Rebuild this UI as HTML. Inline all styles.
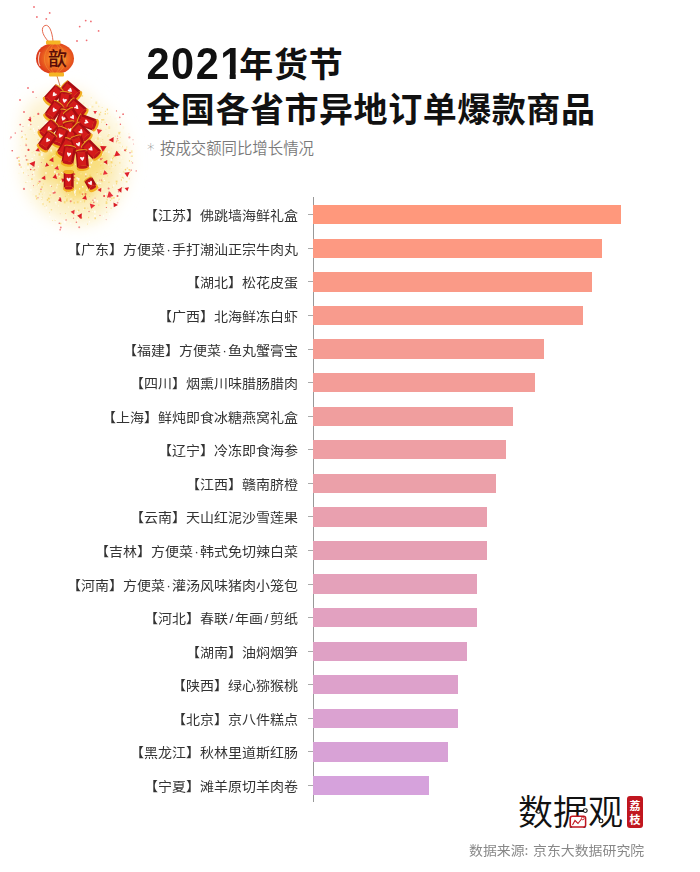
<!DOCTYPE html>
<html><head><meta charset="utf-8"><style>
*{margin:0;padding:0;box-sizing:border-box}
html,body{width:700px;height:872px;background:#fff;overflow:hidden}
body{position:relative;font-family:"Liberation Sans","Noto Sans CJK SC",sans-serif}
.one{display:inline-block;clip-path:polygon(0 0,100% 0,100% 34.4px,15.5px 34.4px,15.5px 100%,9.4px 100%,9.4px 34.4px,0 34.4px)}
.dg{letter-spacing:1.5px;font-size:41.5px;font-family:"Liberation Sans",sans-serif;display:inline-block;transform:scaleY(1.05);transform-origin:50% 80%;position:relative;top:1.5px}
.cj1{display:inline-block;margin-left:-5.5px;letter-spacing:0.7px;font-size:34px;position:relative;top:-0.5px;font-family:"Noto Sans CJK SC",sans-serif}
.ast{display:inline-block;width:14px;position:relative;top:0.5px;left:1px;font-family:"DejaVu Sans",sans-serif;font-size:15px}
.t1{position:absolute;left:146.5px;top:37px;font-size:34.5px;font-weight:700;color:#111;line-height:52px;white-space:nowrap;font-family:"Liberation Sans","Noto Sans CJK SC",sans-serif}
.t2{position:absolute;left:146.3px;top:82.3px;font-size:34px;letter-spacing:0.55px;font-weight:700;color:#111;line-height:52px;white-space:nowrap;font-family:"Noto Sans CJK SC",sans-serif}
.sub{position:absolute;left:146px;top:138px;font-size:15.4px;font-weight:350;color:#7a7a7a;line-height:22px;white-space:nowrap;font-family:"Liberation Sans","Noto Sans CJK SC",sans-serif}
.axis{position:absolute;left:313px;top:197px;width:1px;height:605px;background:#999}
.tick{position:absolute;left:308px;width:5px;height:1px;background:#aaa}
.bar{position:absolute;left:313px;height:19.3px}
.md{display:inline-block;width:7px;text-align:center}
.lab{position:absolute;right:402px;height:20px;line-height:20px;font-size:14px;color:#333;transform:scaleY(0.93);transform-origin:50% 55%;white-space:nowrap;font-family:"Liberation Sans","Noto Sans CJK SC",sans-serif}
.src{position:absolute;left:469px;top:838.5px;font-size:13.9px;word-spacing:1.5px;transform:scaleY(0.94);transform-origin:0 40%;color:#888;line-height:20px;white-space:nowrap;font-family:"Noto Sans CJK SC",sans-serif}
.logo{position:absolute;left:518px;top:788px;font-size:35px;font-weight:350;color:#111;line-height:44px;white-space:nowrap;font-family:"Noto Sans CJK SC",sans-serif}
.badge{position:absolute;left:627px;top:796px;width:16px;height:32px;background:#c0161f;border-radius:3px;color:#fff;font-size:11px;font-weight:700;line-height:14px;text-align:center;padding-top:2px;font-family:"Noto Sans CJK SC",sans-serif}
.fire{position:absolute;left:0;top:0;width:180px;height:240px}
</style></head><body>
<svg class="fire" width="180" height="240" viewBox="0 0 180 240">
<defs><filter id="bl" x="-50%" y="-50%" width="200%" height="200%"><feGaussianBlur stdDeviation="8"/></filter><filter id="bl2" x="-50%" y="-50%" width="200%" height="200%"><feGaussianBlur stdDeviation="4"/></filter><radialGradient id="lg" cx="0.55" cy="0.5" r="0.55"><stop offset="0" stop-color="#f7a032"/><stop offset="0.55" stop-color="#ef6c22"/><stop offset="1" stop-color="#da3419"/></radialGradient></defs>
<g filter="url(#bl)">
<ellipse cx="75" cy="162" rx="54" ry="62" fill="#fdf4d6"/>
<ellipse cx="68" cy="122" rx="32" ry="34" fill="#fdf4d8"/>
<ellipse cx="42" cy="130" rx="20" ry="32" fill="#fdf3d0"/>
<ellipse cx="76" cy="170" rx="38" ry="40" fill="#fbe9aa"/>
<ellipse cx="85" cy="202" rx="24" ry="20" fill="#fcefc0"/>
</g>
<g filter="url(#bl2)">
<ellipse cx="66" cy="163" rx="22" ry="18" fill="#f7d558"/>
<ellipse cx="92" cy="160" rx="15" ry="15" fill="#f9df80"/>
<ellipse cx="78" cy="186" rx="17" ry="13" fill="#f8da70"/>
<ellipse cx="50" cy="172" rx="10" ry="9" fill="#f9e08a"/>
</g>
<g><rect x="33.5" y="174.6" width="1.1" height="1.7" fill="#ffffff" opacity="0.75"/><rect x="94.2" y="215.0" width="1.4" height="1.9" fill="#ffffff" opacity="0.75"/><rect x="101.5" y="180.3" width="1.2" height="1.9" fill="#f7d66a" opacity="0.75"/><rect x="45.3" y="121.9" width="1.8" height="2.2" fill="#ffffff" opacity="0.75"/><rect x="57.8" y="142.6" width="1.6" height="1.1" fill="#f7d66a" opacity="0.75"/><rect x="128.0" y="173.8" width="0.6" height="0.7" fill="#f5cf5a" opacity="0.75"/><rect x="25.4" y="182.1" width="0.9" height="0.8" fill="#f5cf5a" opacity="0.75"/><rect x="91.9" y="160.6" width="0.9" height="1.5" fill="#fff7dc" opacity="0.75"/><rect x="128.1" y="158.4" width="0.9" height="1.2" fill="#fff7dc" opacity="0.75"/><rect x="65.0" y="159.1" width="1.5" height="1.5" fill="#f5cf5a" opacity="0.75"/><rect x="95.6" y="126.3" width="1.6" height="1.0" fill="#f7d66a" opacity="0.75"/><rect x="88.9" y="221.0" width="1.1" height="1.4" fill="#ffffff" opacity="0.75"/><rect x="36.8" y="184.0" width="1.5" height="1.3" fill="#fbe49a" opacity="0.75"/><rect x="103.6" y="179.8" width="1.5" height="1.1" fill="#ffffff" opacity="0.75"/><rect x="75.4" y="181.0" width="1.2" height="1.3" fill="#f7d66a" opacity="0.75"/><rect x="64.6" y="133.9" width="0.8" height="1.1" fill="#f5cf5a" opacity="0.75"/><rect x="106.6" y="198.8" width="1.1" height="1.7" fill="#f7d66a" opacity="0.75"/><rect x="128.9" y="160.2" width="1.0" height="1.4" fill="#f5cf5a" opacity="0.75"/><rect x="83.9" y="200.2" width="1.4" height="1.0" fill="#f5cf5a" opacity="0.75"/><rect x="101.7" y="158.0" width="0.6" height="0.7" fill="#ffffff" opacity="0.75"/><rect x="92.4" y="124.1" width="0.7" height="0.8" fill="#f7d66a" opacity="0.75"/><rect x="77.0" y="211.1" width="1.3" height="1.0" fill="#ffffff" opacity="0.75"/><rect x="29.8" y="128.6" width="1.6" height="1.3" fill="#fbe49a" opacity="0.75"/><rect x="106.3" y="211.8" width="0.9" height="0.7" fill="#f5cf5a" opacity="0.75"/><rect x="71.3" y="96.1" width="1.4" height="1.4" fill="#fbe49a" opacity="0.75"/><rect x="58.8" y="162.0" width="0.7" height="0.5" fill="#f7d66a" opacity="0.75"/><rect x="102.5" y="152.5" width="1.1" height="1.1" fill="#fff7dc" opacity="0.75"/><rect x="108.6" y="134.0" width="0.8" height="1.1" fill="#f5cf5a" opacity="0.75"/><rect x="100.2" y="173.2" width="1.4" height="1.7" fill="#f5cf5a" opacity="0.75"/><rect x="98.9" y="173.7" width="1.5" height="1.0" fill="#fbe49a" opacity="0.75"/><rect x="50.4" y="177.4" width="0.8" height="0.8" fill="#f7d66a" opacity="0.75"/><rect x="56.1" y="149.5" width="0.8" height="0.8" fill="#ffffff" opacity="0.75"/><rect x="50.8" y="209.3" width="1.3" height="1.0" fill="#f5cf5a" opacity="0.75"/><rect x="82.6" y="161.9" width="1.4" height="2.3" fill="#ffffff" opacity="0.75"/><rect x="120.8" y="167.0" width="0.7" height="0.6" fill="#ffffff" opacity="0.75"/><rect x="85.2" y="173.4" width="1.3" height="1.7" fill="#ffffff" opacity="0.75"/><rect x="115.3" y="126.8" width="0.8" height="1.2" fill="#fff7dc" opacity="0.75"/><rect x="65.8" y="176.1" width="1.7" height="2.5" fill="#ffffff" opacity="0.75"/><rect x="30.3" y="189.2" width="1.3" height="1.6" fill="#ffffff" opacity="0.75"/><rect x="42.3" y="193.9" width="0.7" height="0.5" fill="#f5cf5a" opacity="0.75"/><rect x="97.0" y="182.2" width="1.5" height="1.5" fill="#ffffff" opacity="0.75"/><rect x="70.9" y="109.9" width="1.2" height="1.3" fill="#ffffff" opacity="0.75"/><rect x="33.7" y="154.5" width="1.3" height="1.4" fill="#ffffff" opacity="0.75"/><rect x="81.0" y="214.7" width="1.5" height="1.9" fill="#ffffff" opacity="0.75"/><rect x="20.3" y="165.4" width="1.0" height="1.2" fill="#ffffff" opacity="0.75"/><rect x="82.0" y="186.0" width="1.4" height="1.5" fill="#ffffff" opacity="0.75"/><rect x="100.8" y="136.3" width="0.9" height="1.1" fill="#fff7dc" opacity="0.75"/><rect x="91.7" y="105.9" width="1.7" height="1.6" fill="#fbe49a" opacity="0.75"/><rect x="46.7" y="141.5" width="0.8" height="0.7" fill="#fbe49a" opacity="0.75"/><rect x="84.3" y="151.9" width="1.7" height="1.5" fill="#f7d66a" opacity="0.75"/><rect x="93.9" y="198.7" width="1.7" height="2.4" fill="#ffffff" opacity="0.75"/><rect x="44.1" y="192.0" width="1.0" height="1.4" fill="#fff7dc" opacity="0.75"/><rect x="113.8" y="155.0" width="1.6" height="1.4" fill="#f7d66a" opacity="0.75"/><rect x="37.7" y="126.0" width="1.3" height="1.2" fill="#ffffff" opacity="0.75"/><rect x="77.1" y="151.2" width="1.1" height="0.9" fill="#fbe49a" opacity="0.75"/><rect x="78.6" y="126.2" width="1.6" height="2.5" fill="#fbe49a" opacity="0.75"/><rect x="89.3" y="174.4" width="1.4" height="2.0" fill="#f5cf5a" opacity="0.75"/><rect x="121.4" y="145.9" width="1.6" height="1.4" fill="#fbe49a" opacity="0.75"/><rect x="63.8" y="104.1" width="1.5" height="1.1" fill="#f5cf5a" opacity="0.75"/><rect x="70.2" y="198.4" width="1.7" height="1.9" fill="#fff7dc" opacity="0.75"/><rect x="98.1" y="159.5" width="1.7" height="1.2" fill="#fff7dc" opacity="0.75"/><rect x="119.9" y="136.9" width="1.1" height="0.9" fill="#fbe49a" opacity="0.75"/><rect x="78.6" y="156.5" width="1.3" height="1.9" fill="#f5cf5a" opacity="0.75"/><rect x="91.3" y="98.6" width="1.0" height="1.6" fill="#ffffff" opacity="0.75"/><rect x="118.9" y="195.8" width="1.7" height="1.2" fill="#fff7dc" opacity="0.75"/><rect x="76.8" y="201.2" width="1.8" height="2.0" fill="#f7d66a" opacity="0.75"/><rect x="83.3" y="123.9" width="1.6" height="1.5" fill="#fff7dc" opacity="0.75"/><rect x="108.4" y="181.8" width="1.1" height="1.0" fill="#f5cf5a" opacity="0.75"/><rect x="98.7" y="145.1" width="1.1" height="0.7" fill="#f7d66a" opacity="0.75"/><rect x="28.0" y="148.7" width="1.2" height="1.9" fill="#fbe49a" opacity="0.75"/><rect x="108.9" y="132.2" width="1.4" height="2.2" fill="#fff7dc" opacity="0.75"/><rect x="18.6" y="163.0" width="1.5" height="1.6" fill="#f7d66a" opacity="0.75"/><rect x="25.7" y="138.3" width="1.4" height="1.5" fill="#f5cf5a" opacity="0.75"/><rect x="99.1" y="118.9" width="1.4" height="2.2" fill="#ffffff" opacity="0.75"/><rect x="106.0" y="122.5" width="1.6" height="2.5" fill="#ffffff" opacity="0.75"/><rect x="31.6" y="152.4" width="1.1" height="0.8" fill="#fbe49a" opacity="0.75"/><rect x="110.6" y="161.3" width="1.8" height="2.0" fill="#f5cf5a" opacity="0.75"/><rect x="32.9" y="194.5" width="0.7" height="0.5" fill="#f5cf5a" opacity="0.75"/><rect x="102.9" y="215.2" width="1.1" height="1.7" fill="#ffffff" opacity="0.75"/><rect x="101.7" y="144.2" width="1.2" height="1.1" fill="#ffffff" opacity="0.75"/><rect x="120.6" y="122.8" width="1.2" height="0.9" fill="#ffffff" opacity="0.75"/><rect x="66.3" y="165.5" width="0.8" height="1.0" fill="#ffffff" opacity="0.75"/><rect x="100.3" y="164.1" width="0.6" height="0.5" fill="#fbe49a" opacity="0.75"/><rect x="70.3" y="127.8" width="0.7" height="1.0" fill="#ffffff" opacity="0.75"/><rect x="104.7" y="192.9" width="1.5" height="1.9" fill="#ffffff" opacity="0.75"/><rect x="81.4" y="153.1" width="1.1" height="1.2" fill="#fff7dc" opacity="0.75"/><rect x="89.1" y="185.2" width="1.2" height="1.0" fill="#fff7dc" opacity="0.75"/><rect x="84.0" y="207.5" width="1.6" height="1.4" fill="#f5cf5a" opacity="0.75"/><rect x="72.0" y="100.7" width="1.0" height="0.9" fill="#fbe49a" opacity="0.75"/><rect x="99.0" y="145.6" width="1.7" height="1.2" fill="#fbe49a" opacity="0.75"/><rect x="78.3" y="216.1" width="1.1" height="1.1" fill="#ffffff" opacity="0.75"/><rect x="114.9" y="142.4" width="0.8" height="0.8" fill="#fff7dc" opacity="0.75"/><rect x="71.9" y="151.9" width="1.3" height="1.2" fill="#fbe49a" opacity="0.75"/><rect x="90.0" y="124.2" width="1.2" height="1.6" fill="#fff7dc" opacity="0.75"/><rect x="27.0" y="159.0" width="1.6" height="1.7" fill="#fbe49a" opacity="0.75"/><rect x="125.0" y="168.8" width="1.2" height="1.4" fill="#f5cf5a" opacity="0.75"/><rect x="90.1" y="182.6" width="0.8" height="0.6" fill="#fbe49a" opacity="0.75"/><rect x="65.2" y="213.0" width="0.7" height="1.0" fill="#f5cf5a" opacity="0.75"/><rect x="25.7" y="173.6" width="1.1" height="1.1" fill="#ffffff" opacity="0.75"/><rect x="58.8" y="184.0" width="0.6" height="0.8" fill="#ffffff" opacity="0.75"/><rect x="88.8" y="136.7" width="1.0" height="1.0" fill="#ffffff" opacity="0.75"/><rect x="114.8" y="135.8" width="1.2" height="0.7" fill="#f7d66a" opacity="0.75"/><rect x="115.7" y="123.3" width="1.7" height="2.5" fill="#fff7dc" opacity="0.75"/><rect x="115.7" y="141.5" width="1.2" height="1.9" fill="#fbe49a" opacity="0.75"/><rect x="85.0" y="128.4" width="1.5" height="2.1" fill="#f7d66a" opacity="0.75"/><rect x="89.6" y="121.4" width="1.7" height="2.1" fill="#ffffff" opacity="0.75"/><rect x="80.5" y="102.6" width="0.8" height="0.7" fill="#ffffff" opacity="0.75"/><rect x="84.3" y="125.3" width="0.6" height="0.6" fill="#f7d66a" opacity="0.75"/><rect x="45.5" y="120.1" width="0.9" height="1.4" fill="#fbe49a" opacity="0.75"/><rect x="66.9" y="189.2" width="1.3" height="1.5" fill="#ffffff" opacity="0.75"/><rect x="30.4" y="202.2" width="0.9" height="0.6" fill="#fff7dc" opacity="0.75"/><rect x="40.2" y="190.6" width="1.3" height="1.8" fill="#f7d66a" opacity="0.75"/><rect x="73.5" y="201.8" width="1.5" height="1.9" fill="#f7d66a" opacity="0.75"/><rect x="104.4" y="162.3" width="1.7" height="1.9" fill="#ffffff" opacity="0.75"/><rect x="18.0" y="156.8" width="1.6" height="1.1" fill="#f5cf5a" opacity="0.75"/><rect x="31.3" y="178.2" width="1.3" height="1.8" fill="#f5cf5a" opacity="0.75"/><rect x="128.7" y="177.8" width="1.1" height="1.7" fill="#fbe49a" opacity="0.75"/><rect x="101.3" y="121.7" width="0.7" height="1.0" fill="#f5cf5a" opacity="0.75"/><rect x="38.0" y="182.9" width="1.0" height="1.1" fill="#f5cf5a" opacity="0.75"/><rect x="45.0" y="163.6" width="1.4" height="1.9" fill="#ffffff" opacity="0.75"/><rect x="125.3" y="169.7" width="0.7" height="0.5" fill="#f5cf5a" opacity="0.75"/><rect x="76.1" y="118.8" width="1.5" height="1.0" fill="#ffffff" opacity="0.75"/><rect x="131.2" y="155.5" width="1.6" height="1.3" fill="#f7d66a" opacity="0.75"/><rect x="69.4" y="127.6" width="0.7" height="0.5" fill="#fbe49a" opacity="0.75"/><rect x="95.4" y="101.5" width="1.8" height="2.5" fill="#fbe49a" opacity="0.75"/><rect x="59.3" y="146.4" width="1.1" height="0.8" fill="#f5cf5a" opacity="0.75"/><rect x="97.3" y="129.8" width="0.7" height="0.8" fill="#fbe49a" opacity="0.75"/><rect x="55.7" y="121.3" width="1.4" height="1.8" fill="#ffffff" opacity="0.75"/><rect x="42.2" y="202.9" width="1.7" height="2.3" fill="#fbe49a" opacity="0.75"/><rect x="76.4" y="182.2" width="1.5" height="1.9" fill="#ffffff" opacity="0.75"/><rect x="55.9" y="186.6" width="1.5" height="1.9" fill="#fff7dc" opacity="0.75"/><rect x="86.3" y="192.4" width="0.8" height="0.7" fill="#fbe49a" opacity="0.75"/><rect x="130.1" y="152.0" width="0.6" height="0.4" fill="#fff7dc" opacity="0.75"/><rect x="70.0" y="202.7" width="0.6" height="0.5" fill="#f5cf5a" opacity="0.75"/><rect x="66.1" y="216.5" width="0.8" height="0.7" fill="#fff7dc" opacity="0.75"/><rect x="115.1" y="154.7" width="0.9" height="0.8" fill="#ffffff" opacity="0.75"/><rect x="73.3" y="99.6" width="1.6" height="1.6" fill="#f7d66a" opacity="0.75"/><rect x="98.2" y="105.7" width="1.1" height="1.5" fill="#fbe49a" opacity="0.75"/><rect x="57.6" y="176.3" width="1.4" height="2.2" fill="#fbe49a" opacity="0.75"/><rect x="55.4" y="203.5" width="1.6" height="1.2" fill="#fff7dc" opacity="0.75"/><rect x="49.9" y="118.6" width="1.7" height="1.1" fill="#ffffff" opacity="0.75"/><rect x="112.8" y="184.7" width="1.6" height="1.7" fill="#ffffff" opacity="0.75"/><rect x="77.5" y="154.3" width="0.9" height="1.1" fill="#ffffff" opacity="0.75"/><rect x="102.8" y="177.9" width="1.5" height="1.4" fill="#fff7dc" opacity="0.75"/><rect x="95.0" y="139.1" width="1.5" height="1.4" fill="#fff7dc" opacity="0.75"/><rect x="111.2" y="197.4" width="1.3" height="2.0" fill="#f5cf5a" opacity="0.75"/><rect x="63.2" y="127.8" width="1.6" height="1.4" fill="#f5cf5a" opacity="0.75"/><rect x="59.9" y="198.0" width="1.7" height="1.4" fill="#fff7dc" opacity="0.75"/><rect x="52.4" y="190.5" width="1.4" height="1.7" fill="#ffffff" opacity="0.75"/><rect x="89.2" y="105.6" width="1.6" height="1.8" fill="#ffffff" opacity="0.75"/><rect x="97.5" y="117.6" width="0.7" height="0.7" fill="#fbe49a" opacity="0.75"/><rect x="107.0" y="112.9" width="1.2" height="1.4" fill="#fbe49a" opacity="0.75"/><rect x="23.0" y="133.3" width="1.6" height="1.6" fill="#fff7dc" opacity="0.75"/><rect x="47.1" y="142.0" width="0.7" height="0.5" fill="#f5cf5a" opacity="0.75"/><rect x="70.5" y="97.6" width="0.6" height="0.8" fill="#f7d66a" opacity="0.75"/><rect x="117.9" y="194.3" width="0.9" height="0.7" fill="#ffffff" opacity="0.75"/><rect x="79.0" y="112.6" width="1.1" height="1.0" fill="#ffffff" opacity="0.75"/><rect x="121.6" y="149.3" width="1.2" height="1.7" fill="#ffffff" opacity="0.75"/><rect x="116.0" y="182.8" width="1.1" height="1.6" fill="#f7d66a" opacity="0.75"/><rect x="48.2" y="107.2" width="1.6" height="2.4" fill="#ffffff" opacity="0.75"/><rect x="119.8" y="146.2" width="1.0" height="0.6" fill="#f5cf5a" opacity="0.75"/><rect x="118.0" y="200.4" width="0.9" height="0.7" fill="#fbe49a" opacity="0.75"/><rect x="43.3" y="119.0" width="0.8" height="0.9" fill="#ffffff" opacity="0.75"/><rect x="60.1" y="222.7" width="1.2" height="1.6" fill="#f7d66a" opacity="0.75"/><rect x="67.5" y="184.6" width="1.7" height="2.3" fill="#fbe49a" opacity="0.75"/><rect x="115.0" y="164.9" width="1.0" height="0.8" fill="#f7d66a" opacity="0.75"/><rect x="46.8" y="199.1" width="1.5" height="1.7" fill="#f5cf5a" opacity="0.75"/><rect x="79.1" y="188.0" width="1.1" height="1.6" fill="#ffffff" opacity="0.75"/><rect x="117.4" y="140.0" width="1.2" height="1.0" fill="#f5cf5a" opacity="0.75"/><rect x="117.2" y="119.0" width="1.4" height="1.9" fill="#ffffff" opacity="0.75"/><rect x="120.0" y="193.6" width="0.7" height="1.0" fill="#ffffff" opacity="0.75"/><rect x="86.4" y="121.2" width="1.6" height="2.1" fill="#f5cf5a" opacity="0.75"/><rect x="78.3" y="144.6" width="1.7" height="2.5" fill="#fbe49a" opacity="0.75"/><rect x="107.2" y="135.2" width="1.5" height="1.8" fill="#fbe49a" opacity="0.75"/><rect x="87.6" y="181.8" width="0.8" height="1.2" fill="#ffffff" opacity="0.75"/><rect x="82.7" y="137.8" width="1.8" height="1.6" fill="#fff7dc" opacity="0.75"/><rect x="53.0" y="154.5" width="0.6" height="0.9" fill="#fbe49a" opacity="0.75"/><rect x="104.9" y="110.8" width="1.0" height="1.2" fill="#f7d66a" opacity="0.75"/><rect x="21.1" y="149.1" width="1.2" height="1.8" fill="#fff7dc" opacity="0.75"/><rect x="29.1" y="128.4" width="0.6" height="0.5" fill="#ffffff" opacity="0.75"/><rect x="91.8" y="211.1" width="0.9" height="1.0" fill="#ffffff" opacity="0.75"/><rect x="52.3" y="155.8" width="1.0" height="1.0" fill="#ffffff" opacity="0.75"/><rect x="20.7" y="137.1" width="1.5" height="1.4" fill="#fff7dc" opacity="0.75"/><rect x="67.7" y="140.2" width="1.4" height="1.9" fill="#ffffff" opacity="0.75"/><rect x="79.3" y="137.5" width="0.6" height="0.6" fill="#ffffff" opacity="0.75"/><rect x="68.0" y="128.8" width="0.7" height="1.0" fill="#f5cf5a" opacity="0.75"/><rect x="107.9" y="112.3" width="0.8" height="1.0" fill="#fff7dc" opacity="0.75"/><rect x="66.1" y="199.2" width="1.5" height="2.3" fill="#f5cf5a" opacity="0.75"/><rect x="76.3" y="110.8" width="0.9" height="0.7" fill="#f7d66a" opacity="0.75"/><rect x="71.1" y="122.4" width="1.3" height="1.7" fill="#ffffff" opacity="0.75"/><rect x="49.1" y="212.3" width="0.7" height="0.9" fill="#f7d66a" opacity="0.75"/><rect x="106.2" y="198.5" width="0.8" height="0.8" fill="#fbe49a" opacity="0.75"/><rect x="98.2" y="116.6" width="0.7" height="0.5" fill="#f7d66a" opacity="0.75"/><rect x="113.1" y="156.6" width="1.0" height="1.4" fill="#f7d66a" opacity="0.75"/><rect x="94.4" y="149.1" width="1.5" height="2.2" fill="#fbe49a" opacity="0.75"/><rect x="49.8" y="185.0" width="1.3" height="1.8" fill="#ffffff" opacity="0.75"/><rect x="50.2" y="135.7" width="1.4" height="1.7" fill="#fbe49a" opacity="0.75"/><rect x="108.1" y="164.4" width="1.0" height="1.0" fill="#ffffff" opacity="0.75"/><rect x="50.4" y="149.5" width="1.5" height="2.2" fill="#ffffff" opacity="0.75"/><rect x="57.4" y="143.1" width="1.7" height="1.9" fill="#f5cf5a" opacity="0.75"/><rect x="50.4" y="197.3" width="1.3" height="1.0" fill="#fbe49a" opacity="0.75"/><rect x="128.0" y="133.2" width="1.6" height="1.3" fill="#fff7dc" opacity="0.75"/><rect x="118.2" y="142.3" width="1.5" height="1.1" fill="#fbe49a" opacity="0.75"/><rect x="37.9" y="165.9" width="1.0" height="1.5" fill="#ffffff" opacity="0.75"/><rect x="49.6" y="194.4" width="1.1" height="1.5" fill="#f7d66a" opacity="0.75"/><rect x="78.1" y="209.7" width="1.3" height="1.5" fill="#f5cf5a" opacity="0.75"/><rect x="70.0" y="222.7" width="1.3" height="1.0" fill="#ffffff" opacity="0.75"/><rect x="89.1" y="128.4" width="0.9" height="1.0" fill="#ffffff" opacity="0.75"/><rect x="87.1" y="135.2" width="1.6" height="1.7" fill="#f5cf5a" opacity="0.75"/><rect x="32.9" y="193.3" width="0.8" height="1.0" fill="#fff7dc" opacity="0.75"/><rect x="106.7" y="108.6" width="1.3" height="1.8" fill="#f5cf5a" opacity="0.75"/><rect x="100.8" y="163.0" width="0.6" height="0.7" fill="#ffffff" opacity="0.75"/><rect x="102.2" y="188.4" width="1.2" height="1.1" fill="#ffffff" opacity="0.75"/><rect x="44.6" y="144.2" width="1.5" height="2.0" fill="#fff7dc" opacity="0.75"/><rect x="83.6" y="119.3" width="1.3" height="1.4" fill="#ffffff" opacity="0.75"/><rect x="36.1" y="187.5" width="1.3" height="1.3" fill="#fff7dc" opacity="0.75"/><rect x="64.2" y="221.0" width="1.6" height="2.3" fill="#ffffff" opacity="0.75"/><rect x="42.9" y="183.5" width="0.7" height="1.1" fill="#f5cf5a" opacity="0.75"/><rect x="54.8" y="201.7" width="1.7" height="1.6" fill="#ffffff" opacity="0.75"/><rect x="121.5" y="178.9" width="1.5" height="1.8" fill="#ffffff" opacity="0.75"/><rect x="75.4" y="123.6" width="1.7" height="1.4" fill="#f5cf5a" opacity="0.75"/><rect x="91.0" y="133.1" width="1.8" height="1.9" fill="#ffffff" opacity="0.75"/><rect x="118.6" y="198.7" width="1.0" height="1.0" fill="#f5cf5a" opacity="0.75"/><rect x="76.3" y="177.2" width="1.8" height="2.2" fill="#fff7dc" opacity="0.75"/><rect x="100.2" y="128.1" width="0.9" height="1.2" fill="#fbe49a" opacity="0.75"/><rect x="24.7" y="134.4" width="1.2" height="0.9" fill="#f7d66a" opacity="0.75"/><rect x="107.5" y="126.2" width="0.6" height="0.5" fill="#ffffff" opacity="0.75"/><rect x="64.9" y="195.8" width="1.1" height="1.2" fill="#f7d66a" opacity="0.75"/><rect x="53.6" y="155.3" width="1.3" height="0.8" fill="#fff7dc" opacity="0.75"/><rect x="128.9" y="172.2" width="1.0" height="0.7" fill="#ffffff" opacity="0.75"/><rect x="83.5" y="102.7" width="0.8" height="1.2" fill="#fbe49a" opacity="0.75"/><rect x="70.0" y="145.0" width="1.6" height="1.5" fill="#ffffff" opacity="0.75"/><rect x="51.3" y="164.7" width="1.8" height="1.4" fill="#fff7dc" opacity="0.75"/><rect x="57.9" y="138.7" width="1.4" height="1.3" fill="#f7d66a" opacity="0.75"/><rect x="98.5" y="101.1" width="1.6" height="2.2" fill="#ffffff" opacity="0.75"/><rect x="107.0" y="201.3" width="1.1" height="0.8" fill="#ffffff" opacity="0.75"/><rect x="88.0" y="142.5" width="0.8" height="0.7" fill="#fff7dc" opacity="0.75"/><rect x="79.3" y="213.6" width="1.0" height="1.3" fill="#ffffff" opacity="0.75"/><rect x="108.3" y="126.3" width="1.8" height="2.7" fill="#fbe49a" opacity="0.75"/><rect x="86.7" y="188.4" width="1.4" height="0.9" fill="#fbe49a" opacity="0.75"/><rect x="113.3" y="155.3" width="0.7" height="1.0" fill="#f5cf5a" opacity="0.75"/><rect x="119.4" y="162.2" width="0.9" height="1.3" fill="#f5cf5a" opacity="0.75"/><rect x="101.4" y="178.4" width="0.9" height="0.8" fill="#fbe49a" opacity="0.75"/><rect x="51.1" y="151.5" width="1.8" height="1.1" fill="#fbe49a" opacity="0.75"/><rect x="26.2" y="173.7" width="0.6" height="0.9" fill="#ffffff" opacity="0.75"/><rect x="88.6" y="166.2" width="1.7" height="1.6" fill="#fff7dc" opacity="0.75"/><rect x="64.7" y="161.2" width="1.2" height="1.7" fill="#ffffff" opacity="0.75"/><rect x="58.2" y="116.4" width="0.8" height="1.1" fill="#f5cf5a" opacity="0.75"/><rect x="98.0" y="204.3" width="1.4" height="1.6" fill="#fbe49a" opacity="0.75"/><rect x="73.1" y="215.8" width="0.9" height="1.0" fill="#fff7dc" opacity="0.75"/><rect x="82.9" y="209.4" width="0.9" height="0.7" fill="#ffffff" opacity="0.75"/><rect x="88.1" y="157.2" width="1.6" height="1.3" fill="#ffffff" opacity="0.75"/><rect x="79.5" y="167.2" width="1.6" height="1.7" fill="#ffffff" opacity="0.75"/><rect x="66.0" y="99.8" width="0.7" height="1.0" fill="#f7d66a" opacity="0.75"/><rect x="36.2" y="139.6" width="0.9" height="0.7" fill="#fff7dc" opacity="0.75"/><rect x="70.5" y="172.6" width="1.6" height="2.1" fill="#ffffff" opacity="0.75"/><rect x="84.7" y="103.3" width="0.7" height="1.0" fill="#ffffff" opacity="0.75"/><rect x="88.8" y="189.4" width="1.2" height="1.5" fill="#fbe49a" opacity="0.75"/><rect x="42.8" y="134.8" width="1.1" height="1.1" fill="#ffffff" opacity="0.75"/><rect x="87.0" y="223.6" width="0.8" height="1.0" fill="#f7d66a" opacity="0.75"/><rect x="57.8" y="145.7" width="1.1" height="1.5" fill="#fff7dc" opacity="0.75"/><rect x="102.6" y="167.9" width="0.8" height="0.8" fill="#f5cf5a" opacity="0.75"/><rect x="63.8" y="201.1" width="1.8" height="2.3" fill="#f7d66a" opacity="0.75"/><rect x="63.2" y="96.2" width="0.9" height="0.7" fill="#f5cf5a" opacity="0.75"/><rect x="48.0" y="149.6" width="0.7" height="0.6" fill="#ffffff" opacity="0.75"/><rect x="54.6" y="219.9" width="0.9" height="0.7" fill="#f5cf5a" opacity="0.75"/><rect x="25.3" y="126.4" width="1.0" height="1.3" fill="#fff7dc" opacity="0.75"/><rect x="104.4" y="121.8" width="1.2" height="1.1" fill="#fbe49a" opacity="0.75"/><rect x="94.8" y="126.0" width="0.9" height="0.8" fill="#f7d66a" opacity="0.75"/><rect x="92.4" y="204.7" width="1.2" height="1.2" fill="#fbe49a" opacity="0.75"/><rect x="33.0" y="128.0" width="1.1" height="1.8" fill="#ffffff" opacity="0.75"/><rect x="51.8" y="104.7" width="1.2" height="1.3" fill="#fbe49a" opacity="0.75"/><rect x="104.2" y="170.1" width="1.3" height="1.5" fill="#ffffff" opacity="0.75"/><rect x="72.8" y="112.8" width="1.7" height="2.2" fill="#f5cf5a" opacity="0.75"/><rect x="70.9" y="199.4" width="1.5" height="2.0" fill="#fbe49a" opacity="0.75"/><rect x="93.5" y="184.6" width="0.6" height="0.6" fill="#f7d66a" opacity="0.75"/><rect x="62.5" y="172.6" width="1.0" height="1.4" fill="#ffffff" opacity="0.75"/><rect x="61.5" y="158.1" width="1.3" height="1.4" fill="#ffffff" opacity="0.75"/><rect x="90.9" y="203.7" width="0.6" height="0.6" fill="#fbe49a" opacity="0.75"/><rect x="37.0" y="182.4" width="1.2" height="1.4" fill="#fbe49a" opacity="0.75"/><rect x="59.8" y="200.8" width="0.8" height="0.6" fill="#ffffff" opacity="0.75"/><rect x="65.7" y="214.7" width="0.8" height="0.9" fill="#ffffff" opacity="0.75"/><rect x="63.6" y="176.7" width="1.0" height="0.8" fill="#ffffff" opacity="0.75"/><rect x="83.8" y="162.6" width="1.2" height="0.7" fill="#fff7dc" opacity="0.75"/><rect x="78.7" y="103.3" width="1.4" height="2.1" fill="#fff7dc" opacity="0.75"/><rect x="85.1" y="213.6" width="0.7" height="1.0" fill="#fff7dc" opacity="0.75"/><rect x="38.9" y="201.5" width="0.7" height="0.7" fill="#ffffff" opacity="0.75"/><rect x="63.9" y="170.1" width="1.7" height="1.5" fill="#ffffff" opacity="0.75"/><rect x="67.1" y="130.3" width="0.8" height="1.2" fill="#ffffff" opacity="0.75"/><rect x="46.0" y="204.9" width="0.7" height="0.7" fill="#f5cf5a" opacity="0.75"/><rect x="55.1" y="172.0" width="0.9" height="1.3" fill="#f5cf5a" opacity="0.75"/><rect x="55.1" y="218.9" width="0.7" height="1.1" fill="#ffffff" opacity="0.75"/><rect x="100.8" y="142.0" width="1.2" height="1.4" fill="#ffffff" opacity="0.75"/><rect x="42.5" y="167.3" width="0.7" height="0.4" fill="#ffffff" opacity="0.75"/><rect x="59.2" y="196.1" width="0.9" height="1.2" fill="#ffffff" opacity="0.75"/><rect x="90.5" y="201.6" width="1.0" height="1.5" fill="#f5cf5a" opacity="0.75"/><rect x="122.9" y="170.8" width="1.5" height="1.9" fill="#fbe49a" opacity="0.75"/><rect x="48.0" y="130.9" width="0.7" height="0.5" fill="#ffffff" opacity="0.75"/><rect x="37.1" y="169.9" width="0.6" height="0.5" fill="#ffffff" opacity="0.75"/><rect x="42.8" y="158.4" width="1.2" height="0.7" fill="#ffffff" opacity="0.75"/><rect x="51.2" y="138.9" width="1.4" height="1.2" fill="#ffffff" opacity="0.75"/><rect x="117.8" y="160.3" width="0.6" height="0.7" fill="#ffffff" opacity="0.75"/><rect x="104.6" y="113.1" width="1.3" height="1.6" fill="#f7d66a" opacity="0.75"/><rect x="102.8" y="103.3" width="0.9" height="0.6" fill="#ffffff" opacity="0.75"/><rect x="126.7" y="167.2" width="1.4" height="1.8" fill="#fbe49a" opacity="0.75"/><rect x="126.3" y="146.5" width="1.0" height="1.3" fill="#fbe49a" opacity="0.75"/><rect x="85.6" y="126.3" width="0.9" height="1.3" fill="#ffffff" opacity="0.75"/><rect x="47.4" y="153.2" width="1.0" height="1.4" fill="#fbe49a" opacity="0.75"/><rect x="118.3" y="131.9" width="1.8" height="2.5" fill="#f7d66a" opacity="0.75"/><rect x="99.3" y="135.8" width="1.2" height="1.6" fill="#ffffff" opacity="0.75"/><rect x="119.3" y="173.1" width="1.6" height="1.1" fill="#ffffff" opacity="0.75"/><rect x="74.0" y="207.0" width="1.1" height="1.4" fill="#fff7dc" opacity="0.75"/><rect x="74.4" y="215.8" width="0.8" height="1.2" fill="#ffffff" opacity="0.75"/><rect x="87.2" y="207.6" width="1.3" height="1.3" fill="#fbe49a" opacity="0.75"/><rect x="62.8" y="109.8" width="1.6" height="1.1" fill="#ffffff" opacity="0.75"/><rect x="41.0" y="197.7" width="1.4" height="2.2" fill="#fbe49a" opacity="0.75"/><rect x="27.4" y="169.7" width="0.9" height="0.8" fill="#fbe49a" opacity="0.75"/><rect x="74.4" y="213.8" width="1.7" height="2.7" fill="#ffffff" opacity="0.75"/><rect x="121.7" y="176.8" width="1.6" height="1.3" fill="#f7d66a" opacity="0.75"/><rect x="48.6" y="198.0" width="1.1" height="1.6" fill="#f7d66a" opacity="0.75"/><rect x="101.7" y="107.0" width="1.0" height="1.0" fill="#fbe49a" opacity="0.75"/><rect x="91.6" y="102.6" width="0.9" height="1.1" fill="#ffffff" opacity="0.75"/><rect x="56.7" y="173.6" width="1.1" height="1.4" fill="#f5cf5a" opacity="0.75"/><rect x="25.3" y="143.2" width="1.1" height="1.6" fill="#fbe49a" opacity="0.75"/><rect x="23.5" y="138.4" width="1.1" height="0.8" fill="#ffffff" opacity="0.75"/><rect x="97.5" y="137.2" width="0.8" height="0.9" fill="#f5cf5a" opacity="0.75"/><rect x="70.8" y="191.1" width="0.8" height="1.0" fill="#ffffff" opacity="0.75"/><rect x="53.9" y="150.7" width="1.7" height="1.5" fill="#f7d66a" opacity="0.75"/><rect x="96.8" y="173.3" width="0.8" height="1.1" fill="#ffffff" opacity="0.75"/><rect x="112.0" y="157.8" width="1.1" height="1.5" fill="#f7d66a" opacity="0.75"/><rect x="63.9" y="169.6" width="1.3" height="1.9" fill="#f5cf5a" opacity="0.75"/><rect x="74.6" y="188.7" width="1.6" height="2.6" fill="#ffffff" opacity="0.75"/><rect x="25.4" y="181.1" width="0.7" height="1.0" fill="#fff7dc" opacity="0.75"/><rect x="115.0" y="143.5" width="0.7" height="0.7" fill="#fff7dc" opacity="0.75"/><rect x="75.7" y="123.3" width="1.2" height="1.7" fill="#f5cf5a" opacity="0.75"/><rect x="107.2" y="175.5" width="0.9" height="0.8" fill="#f5cf5a" opacity="0.75"/><rect x="111.3" y="138.8" width="1.6" height="2.2" fill="#ffffff" opacity="0.75"/><rect x="81.4" y="94.9" width="1.7" height="1.9" fill="#f7d66a" opacity="0.75"/><rect x="94.8" y="124.4" width="0.6" height="0.7" fill="#f5cf5a" opacity="0.75"/><rect x="80.2" y="200.7" width="1.2" height="1.1" fill="#ffffff" opacity="0.75"/><rect x="120.9" y="157.5" width="1.0" height="0.9" fill="#ffffff" opacity="0.75"/><rect x="102.2" y="139.0" width="0.9" height="0.7" fill="#f7d66a" opacity="0.75"/><rect x="80.3" y="172.9" width="1.3" height="1.6" fill="#fbe49a" opacity="0.75"/><rect x="83.3" y="179.3" width="1.0" height="0.8" fill="#fbe49a" opacity="0.75"/><rect x="111.3" y="165.7" width="1.1" height="1.0" fill="#f7d66a" opacity="0.75"/><rect x="19.9" y="145.1" width="0.6" height="0.5" fill="#fbe49a" opacity="0.75"/><rect x="115.7" y="180.6" width="1.8" height="1.8" fill="#f5cf5a" opacity="0.75"/><rect x="101.4" y="152.8" width="1.5" height="2.3" fill="#ffffff" opacity="0.75"/><rect x="80.9" y="143.9" width="1.7" height="1.6" fill="#ffffff" opacity="0.75"/><rect x="89.1" y="196.0" width="0.8" height="1.0" fill="#f7d66a" opacity="0.75"/><rect x="41.5" y="196.7" width="1.3" height="1.3" fill="#fbe49a" opacity="0.75"/><rect x="29.5" y="180.7" width="1.2" height="1.4" fill="#ffffff" opacity="0.75"/><rect x="115.0" y="199.7" width="1.5" height="1.5" fill="#fff7dc" opacity="0.75"/><rect x="23.1" y="172.3" width="0.9" height="1.1" fill="#f5cf5a" opacity="0.75"/><rect x="37.6" y="139.1" width="1.2" height="1.3" fill="#f7d66a" opacity="0.75"/><rect x="72.3" y="173.9" width="1.7" height="1.3" fill="#f7d66a" opacity="0.75"/><rect x="18.3" y="172.9" width="1.3" height="1.1" fill="#fff7dc" opacity="0.75"/><rect x="32.7" y="169.5" width="1.6" height="1.2" fill="#f7d66a" opacity="0.75"/><rect x="115.6" y="157.1" width="0.8" height="1.3" fill="#fbe49a" opacity="0.75"/><rect x="80.4" y="135.9" width="1.6" height="1.7" fill="#f7d66a" opacity="0.75"/><rect x="89.8" y="159.3" width="1.5" height="1.2" fill="#f7d66a" opacity="0.75"/><rect x="88.7" y="118.4" width="0.6" height="0.6" fill="#f5cf5a" opacity="0.75"/><rect x="18.3" y="164.4" width="0.7" height="0.8" fill="#fbe49a" opacity="0.75"/><rect x="84.4" y="115.0" width="0.7" height="0.8" fill="#fbe49a" opacity="0.75"/><rect x="125.8" y="181.2" width="1.6" height="1.2" fill="#f7d66a" opacity="0.75"/><rect x="62.8" y="175.6" width="1.7" height="2.7" fill="#f7d66a" opacity="0.75"/><rect x="80.9" y="194.8" width="0.8" height="0.8" fill="#ffffff" opacity="0.75"/><rect x="101.6" y="117.9" width="0.7" height="1.1" fill="#ffffff" opacity="0.75"/><rect x="87.4" y="210.4" width="1.8" height="2.0" fill="#fff7dc" opacity="0.75"/><rect x="110.6" y="158.6" width="1.4" height="2.1" fill="#ffffff" opacity="0.75"/><rect x="119.4" y="142.2" width="1.4" height="1.1" fill="#fbe49a" opacity="0.75"/><rect x="108.5" y="199.6" width="0.6" height="0.6" fill="#ffffff" opacity="0.75"/><rect x="73.2" y="198.7" width="1.0" height="0.8" fill="#f5cf5a" opacity="0.75"/><rect x="123.2" y="158.2" width="1.5" height="2.1" fill="#fff7dc" opacity="0.75"/><rect x="78.2" y="130.7" width="1.4" height="1.4" fill="#f7d66a" opacity="0.75"/><rect x="90.8" y="121.8" width="0.8" height="0.6" fill="#ffffff" opacity="0.75"/><rect x="109.4" y="186.6" width="0.9" height="1.0" fill="#ffffff" opacity="0.75"/><rect x="63.2" y="220.2" width="1.7" height="1.2" fill="#ffffff" opacity="0.75"/><rect x="58.6" y="134.8" width="1.1" height="1.4" fill="#ffffff" opacity="0.75"/><rect x="43.8" y="133.7" width="1.0" height="1.0" fill="#f7d66a" opacity="0.75"/><rect x="34.4" y="132.9" width="1.0" height="1.2" fill="#ffffff" opacity="0.75"/><rect x="61.5" y="131.2" width="1.0" height="1.3" fill="#ffffff" opacity="0.75"/><rect x="99.1" y="129.4" width="1.0" height="1.4" fill="#ffffff" opacity="0.75"/><rect x="101.3" y="119.0" width="1.4" height="1.5" fill="#f5cf5a" opacity="0.75"/><rect x="88.1" y="216.8" width="1.0" height="1.4" fill="#f7d66a" opacity="0.75"/><rect x="58.5" y="126.2" width="1.4" height="1.1" fill="#f7d66a" opacity="0.75"/><rect x="96.5" y="172.0" width="1.0" height="1.2" fill="#f5cf5a" opacity="0.75"/><rect x="30.0" y="120.0" width="1.8" height="1.8" fill="#f7d66a" opacity="0.75"/><rect x="97.2" y="113.2" width="0.7" height="0.5" fill="#fff7dc" opacity="0.75"/><rect x="122.0" y="159.9" width="1.7" height="1.9" fill="#fff7dc" opacity="0.75"/><rect x="39.7" y="136.5" width="1.2" height="0.8" fill="#fbe49a" opacity="0.75"/><rect x="76.0" y="156.2" width="1.4" height="2.0" fill="#fff7dc" opacity="0.75"/><rect x="114.3" y="130.1" width="1.2" height="1.7" fill="#fff7dc" opacity="0.75"/><rect x="54.1" y="170.6" width="1.6" height="2.5" fill="#ffffff" opacity="0.75"/><rect x="82.2" y="153.8" width="1.1" height="1.3" fill="#ffffff" opacity="0.75"/><rect x="125.4" y="150.7" width="1.0" height="1.1" fill="#f7d66a" opacity="0.75"/><rect x="106.0" y="195.1" width="1.4" height="1.5" fill="#fbe49a" opacity="0.75"/><rect x="62.6" y="196.6" width="0.9" height="0.9" fill="#fbe49a" opacity="0.75"/><rect x="100.5" y="170.3" width="0.8" height="0.6" fill="#ffffff" opacity="0.75"/><rect x="110.7" y="207.6" width="0.8" height="1.2" fill="#f5cf5a" opacity="0.75"/><rect x="38.5" y="153.4" width="1.8" height="2.3" fill="#f5cf5a" opacity="0.75"/><rect x="113.6" y="200.7" width="0.8" height="1.1" fill="#fbe49a" opacity="0.75"/><rect x="70.2" y="104.6" width="1.0" height="1.2" fill="#fbe49a" opacity="0.75"/><rect x="41.3" y="186.1" width="1.4" height="2.0" fill="#f5cf5a" opacity="0.75"/><rect x="110.9" y="172.2" width="0.9" height="1.0" fill="#f7d66a" opacity="0.75"/><rect x="54.3" y="124.3" width="0.8" height="1.3" fill="#ffffff" opacity="0.75"/><rect x="55.0" y="151.0" width="1.7" height="1.2" fill="#f5cf5a" opacity="0.75"/><rect x="53.9" y="135.8" width="0.9" height="0.9" fill="#f5cf5a" opacity="0.75"/><rect x="38.8" y="179.6" width="1.4" height="1.3" fill="#ffffff" opacity="0.75"/><rect x="99.0" y="184.7" width="0.7" height="0.8" fill="#f5cf5a" opacity="0.75"/><rect x="40.0" y="147.7" width="1.4" height="1.9" fill="#fbe49a" opacity="0.75"/><rect x="109.1" y="168.0" width="1.2" height="1.4" fill="#fbe49a" opacity="0.75"/><rect x="71.3" y="119.9" width="1.8" height="1.1" fill="#f5cf5a" opacity="0.75"/><rect x="27.7" y="124.2" width="1.8" height="2.3" fill="#ffffff" opacity="0.75"/><rect x="89.2" y="134.5" width="0.7" height="0.5" fill="#f5cf5a" opacity="0.75"/><rect x="112.3" y="198.8" width="0.7" height="0.5" fill="#ffffff" opacity="0.75"/><rect x="74.6" y="194.3" width="1.4" height="1.3" fill="#ffffff" opacity="0.75"/><rect x="112.1" y="186.7" width="0.7" height="1.1" fill="#f7d66a" opacity="0.75"/><rect x="91.3" y="127.0" width="0.8" height="0.6" fill="#ffffff" opacity="0.75"/><rect x="68.2" y="194.2" width="0.7" height="0.8" fill="#ffffff" opacity="0.75"/><rect x="22.1" y="139.6" width="1.5" height="1.8" fill="#fff7dc" opacity="0.75"/><rect x="64.1" y="132.3" width="0.6" height="0.8" fill="#f5cf5a" opacity="0.75"/><rect x="33.3" y="186.7" width="0.8" height="0.6" fill="#f7d66a" opacity="0.75"/><rect x="66.4" y="137.3" width="1.4" height="2.0" fill="#ffffff" opacity="0.75"/><rect x="23.3" y="181.2" width="0.7" height="0.5" fill="#fff7dc" opacity="0.75"/><rect x="98.8" y="113.5" width="1.5" height="1.9" fill="#f5cf5a" opacity="0.75"/><rect x="36.5" y="193.0" width="1.3" height="1.9" fill="#fff7dc" opacity="0.75"/><rect x="84.0" y="201.2" width="0.8" height="1.2" fill="#f5cf5a" opacity="0.75"/><rect x="92.1" y="188.6" width="0.6" height="0.7" fill="#ffffff" opacity="0.75"/><rect x="40.8" y="197.7" width="1.2" height="1.5" fill="#ffffff" opacity="0.75"/><rect x="36.0" y="197.7" width="1.3" height="1.8" fill="#f7d66a" opacity="0.75"/><rect x="79.7" y="122.8" width="1.0" height="0.8" fill="#f7d66a" opacity="0.75"/><rect x="48.8" y="201.1" width="1.4" height="1.5" fill="#f5cf5a" opacity="0.75"/><rect x="41.5" y="136.2" width="0.8" height="1.0" fill="#f5cf5a" opacity="0.75"/><rect x="61.1" y="172.0" width="0.9" height="0.8" fill="#ffffff" opacity="0.75"/><rect x="69.6" y="110.3" width="1.7" height="2.4" fill="#ffffff" opacity="0.75"/><rect x="74.1" y="192.5" width="1.1" height="1.4" fill="#fbe49a" opacity="0.75"/><rect x="21.7" y="136.2" width="1.1" height="1.2" fill="#f5cf5a" opacity="0.75"/><rect x="80.9" y="216.9" width="1.4" height="1.6" fill="#f7d66a" opacity="0.75"/><rect x="108.9" y="213.3" width="1.3" height="1.5" fill="#ffffff" opacity="0.75"/><rect x="63.7" y="182.3" width="1.6" height="1.1" fill="#ffffff" opacity="0.75"/><rect x="80.8" y="129.9" width="1.6" height="2.2" fill="#fbe49a" opacity="0.75"/><rect x="61.9" y="182.1" width="1.3" height="1.9" fill="#fbe49a" opacity="0.75"/><rect x="117.8" y="134.8" width="0.7" height="1.0" fill="#ffffff" opacity="0.75"/><rect x="90.8" y="111.8" width="1.8" height="1.3" fill="#fff7dc" opacity="0.75"/><rect x="59.9" y="181.3" width="1.4" height="1.2" fill="#ffffff" opacity="0.75"/><rect x="47.4" y="147.4" width="0.9" height="0.8" fill="#f7d66a" opacity="0.75"/><rect x="67.9" y="206.4" width="0.8" height="1.2" fill="#ffffff" opacity="0.75"/><rect x="102.7" y="119.2" width="1.6" height="1.2" fill="#f5cf5a" opacity="0.75"/><rect x="75.1" y="104.7" width="1.5" height="1.3" fill="#f5cf5a" opacity="0.75"/><rect x="127.9" y="181.4" width="1.4" height="1.6" fill="#ffffff" opacity="0.75"/><rect x="27.3" y="166.5" width="1.5" height="2.3" fill="#ffffff" opacity="0.75"/><rect x="31.4" y="158.2" width="1.7" height="1.1" fill="#ffffff" opacity="0.75"/><rect x="33.2" y="144.6" width="1.5" height="1.3" fill="#fff7dc" opacity="0.75"/><rect x="131.0" y="161.1" width="0.8" height="0.8" fill="#f7d66a" opacity="0.75"/><rect x="61.8" y="179.7" width="1.4" height="1.0" fill="#fff7dc" opacity="0.75"/><rect x="56.2" y="172.9" width="1.8" height="2.8" fill="#fff7dc" opacity="0.75"/><rect x="112.4" y="136.5" width="1.2" height="1.0" fill="#ffffff" opacity="0.75"/><rect x="41.0" y="153.4" width="1.7" height="2.5" fill="#ffffff" opacity="0.75"/><rect x="92.4" y="174.7" width="0.7" height="0.8" fill="#fbe49a" opacity="0.75"/><rect x="21.5" y="137.0" width="0.7" height="1.1" fill="#f5cf5a" opacity="0.75"/><rect x="74.0" y="190.9" width="1.7" height="2.7" fill="#ffffff" opacity="0.75"/><rect x="128.1" y="140.4" width="1.7" height="1.1" fill="#ffffff" opacity="0.75"/><rect x="30.5" y="163.3" width="1.3" height="1.9" fill="#fff7dc" opacity="0.75"/><rect x="65.3" y="184.9" width="0.8" height="1.2" fill="#f5cf5a" opacity="0.75"/><rect x="99.5" y="182.8" width="1.7" height="1.1" fill="#ffffff" opacity="0.75"/><rect x="126.8" y="172.0" width="1.3" height="1.9" fill="#fff7dc" opacity="0.75"/><rect x="80.0" y="106.2" width="0.6" height="0.4" fill="#f7d66a" opacity="0.75"/><rect x="90.7" y="97.3" width="1.1" height="1.0" fill="#fbe49a" opacity="0.75"/><rect x="70.9" y="166.6" width="0.9" height="1.1" fill="#fbe49a" opacity="0.75"/><rect x="41.9" y="153.8" width="1.0" height="1.3" fill="#fff7dc" opacity="0.75"/><rect x="108.9" y="142.2" width="0.8" height="0.7" fill="#fbe49a" opacity="0.75"/><rect x="24.1" y="167.7" width="0.8" height="1.1" fill="#ffffff" opacity="0.75"/><rect x="40.6" y="127.5" width="0.9" height="1.3" fill="#f5cf5a" opacity="0.75"/><rect x="86.2" y="189.2" width="1.2" height="1.6" fill="#ffffff" opacity="0.75"/><rect x="78.0" y="171.8" width="1.2" height="0.8" fill="#fbe49a" opacity="0.75"/><rect x="77.4" y="127.5" width="0.7" height="0.8" fill="#fbe49a" opacity="0.75"/><rect x="105.7" y="201.2" width="1.7" height="2.7" fill="#f7d66a" opacity="0.75"/><rect x="58.8" y="175.8" width="1.5" height="1.4" fill="#fff7dc" opacity="0.75"/><rect x="84.0" y="120.6" width="1.3" height="2.0" fill="#ffffff" opacity="0.75"/><rect x="127.1" y="187.1" width="0.7" height="0.4" fill="#f7d66a" opacity="0.75"/><rect x="111.3" y="147.8" width="0.8" height="0.6" fill="#fbe49a" opacity="0.75"/><rect x="116.0" y="115.2" width="1.0" height="1.5" fill="#ffffff" opacity="0.75"/><rect x="105.8" y="203.4" width="0.8" height="0.6" fill="#f7d66a" opacity="0.75"/><rect x="51.2" y="104.2" width="1.7" height="2.1" fill="#fff7dc" opacity="0.75"/><rect x="41.8" y="201.7" width="0.8" height="1.1" fill="#ffffff" opacity="0.75"/><rect x="124.1" y="154.2" width="0.7" height="0.6" fill="#fff7dc" opacity="0.75"/><rect x="83.3" y="181.1" width="1.2" height="1.7" fill="#f5cf5a" opacity="0.75"/><rect x="26.4" y="180.9" width="1.7" height="1.2" fill="#ffffff" opacity="0.75"/><rect x="77.7" y="178.0" width="1.8" height="2.7" fill="#ffffff" opacity="0.75"/><rect x="63.9" y="134.5" width="1.4" height="1.0" fill="#ffffff" opacity="0.75"/><rect x="20.5" y="166.4" width="1.2" height="1.4" fill="#f5cf5a" opacity="0.75"/><rect x="97.4" y="122.9" width="0.8" height="0.8" fill="#fbe49a" opacity="0.75"/><rect x="58.3" y="120.6" width="1.1" height="0.7" fill="#f5cf5a" opacity="0.75"/><rect x="87.6" y="183.4" width="1.6" height="2.5" fill="#fff7dc" opacity="0.75"/><rect x="112.3" y="166.5" width="1.3" height="0.9" fill="#ffffff" opacity="0.75"/><rect x="108.5" y="165.9" width="1.0" height="0.6" fill="#fbe49a" opacity="0.75"/><rect x="72.0" y="211.8" width="1.4" height="1.2" fill="#ffffff" opacity="0.75"/><rect x="73.9" y="133.1" width="1.7" height="2.0" fill="#fbe49a" opacity="0.75"/><rect x="38.0" y="184.2" width="0.9" height="1.4" fill="#ffffff" opacity="0.75"/><rect x="27.3" y="162.9" width="1.6" height="2.4" fill="#f5cf5a" opacity="0.75"/><rect x="96.6" y="200.2" width="1.5" height="2.3" fill="#ffffff" opacity="0.75"/><rect x="58.2" y="205.3" width="0.8" height="1.2" fill="#ffffff" opacity="0.75"/><rect x="71.2" y="180.1" width="0.6" height="0.7" fill="#fff7dc" opacity="0.75"/><rect x="113.2" y="196.9" width="1.4" height="1.8" fill="#f5cf5a" opacity="0.75"/><rect x="55.9" y="124.3" width="1.3" height="1.6" fill="#ffffff" opacity="0.75"/><rect x="58.1" y="164.7" width="1.4" height="0.9" fill="#ffffff" opacity="0.75"/><rect x="81.0" y="168.5" width="1.1" height="0.8" fill="#f5cf5a" opacity="0.75"/><rect x="83.7" y="129.6" width="1.6" height="1.3" fill="#ffffff" opacity="0.75"/><rect x="108.7" y="133.1" width="1.0" height="0.7" fill="#ffffff" opacity="0.75"/><rect x="123.3" y="186.9" width="0.9" height="1.4" fill="#fbe49a" opacity="0.75"/><rect x="41.1" y="159.3" width="1.4" height="1.8" fill="#fbe49a" opacity="0.75"/><rect x="45.1" y="172.0" width="1.7" height="2.2" fill="#fff7dc" opacity="0.75"/><rect x="89.4" y="106.8" width="1.6" height="1.2" fill="#ffffff" opacity="0.75"/><rect x="87.6" y="126.6" width="0.7" height="0.9" fill="#fbe49a" opacity="0.75"/><rect x="120.3" y="145.4" width="1.6" height="1.9" fill="#ffffff" opacity="0.75"/><rect x="122.5" y="126.2" width="1.6" height="2.6" fill="#fff7dc" opacity="0.75"/><rect x="90.9" y="188.4" width="1.6" height="1.5" fill="#ffffff" opacity="0.75"/><rect x="93.9" y="210.6" width="1.8" height="2.2" fill="#ffffff" opacity="0.75"/><rect x="109.9" y="199.9" width="1.1" height="1.1" fill="#f7d66a" opacity="0.75"/><rect x="35.4" y="195.2" width="1.3" height="2.0" fill="#f7d66a" opacity="0.75"/><rect x="48.9" y="124.5" width="1.5" height="0.9" fill="#ffffff" opacity="0.75"/><rect x="105.5" y="128.8" width="0.9" height="1.1" fill="#fbe49a" opacity="0.75"/><rect x="91.8" y="177.4" width="1.0" height="0.9" fill="#ffffff" opacity="0.75"/><rect x="92.9" y="209.1" width="1.5" height="1.1" fill="#fff7dc" opacity="0.75"/><rect x="68.6" y="173.5" width="0.9" height="1.5" fill="#f7d66a" opacity="0.75"/><rect x="33.4" y="115.9" width="1.0" height="0.9" fill="#f7d66a" opacity="0.75"/><rect x="34.9" y="153.5" width="0.7" height="0.9" fill="#f7d66a" opacity="0.75"/><rect x="123.0" y="177.8" width="0.9" height="0.7" fill="#f5cf5a" opacity="0.75"/><rect x="50.1" y="144.2" width="1.1" height="1.0" fill="#ffffff" opacity="0.75"/><rect x="105.5" y="150.8" width="1.2" height="1.0" fill="#fff7dc" opacity="0.75"/><rect x="120.2" y="131.8" width="0.7" height="0.8" fill="#f7d66a" opacity="0.75"/><rect x="55.1" y="107.0" width="1.6" height="2.4" fill="#f5cf5a" opacity="0.75"/><rect x="18.5" y="160.0" width="1.2" height="2.0" fill="#f5cf5a" opacity="0.75"/><rect x="50.1" y="155.0" width="1.3" height="1.0" fill="#f7d66a" opacity="0.75"/><rect x="125.5" y="148.7" width="1.5" height="1.4" fill="#f5cf5a" opacity="0.75"/><rect x="80.0" y="107.2" width="0.7" height="0.4" fill="#fff7dc" opacity="0.75"/><rect x="130.9" y="150.3" width="1.7" height="2.6" fill="#fbe49a" opacity="0.75"/><rect x="89.5" y="166.1" width="1.2" height="1.4" fill="#ffffff" opacity="0.75"/><rect x="114.2" y="111.6" width="1.3" height="1.7" fill="#ffffff" opacity="0.75"/><rect x="36.7" y="190.4" width="1.6" height="1.7" fill="#fff7dc" opacity="0.75"/><rect x="112.2" y="185.7" width="0.7" height="0.7" fill="#fbe49a" opacity="0.75"/><rect x="90.6" y="161.9" width="1.5" height="1.8" fill="#ffffff" opacity="0.75"/><rect x="82.5" y="191.5" width="1.2" height="1.4" fill="#fff7dc" opacity="0.75"/><rect x="52.0" y="220.0" width="1.0" height="0.6" fill="#f7d66a" opacity="0.75"/><rect x="100.1" y="111.8" width="1.1" height="1.1" fill="#f5cf5a" opacity="0.75"/><rect x="97.3" y="138.2" width="1.4" height="1.5" fill="#f7d66a" opacity="0.75"/><rect x="49.5" y="192.6" width="1.1" height="0.9" fill="#ffffff" opacity="0.75"/><rect x="128.6" y="169.0" width="1.5" height="1.6" fill="#f5cf5a" opacity="0.75"/><rect x="21.4" y="170.2" width="1.4" height="1.8" fill="#ffffff" opacity="0.75"/><rect x="23.1" y="158.3" width="1.7" height="1.1" fill="#ffffff" opacity="0.75"/><rect x="79.0" y="191.2" width="1.7" height="2.2" fill="#f5cf5a" opacity="0.75"/><rect x="56.3" y="122.0" width="1.0" height="1.2" fill="#fff7dc" opacity="0.75"/><rect x="113.2" y="185.8" width="1.0" height="1.3" fill="#fff7dc" opacity="0.75"/><rect x="112.2" y="164.5" width="0.9" height="1.1" fill="#ffffff" opacity="0.75"/><rect x="81.7" y="201.0" width="1.5" height="1.5" fill="#fbe49a" opacity="0.75"/><rect x="61.8" y="160.2" width="1.6" height="1.6" fill="#fbe49a" opacity="0.75"/><rect x="33.7" y="130.1" width="1.5" height="1.8" fill="#ffffff" opacity="0.75"/><rect x="74.5" y="215.4" width="1.1" height="0.8" fill="#f5cf5a" opacity="0.75"/><rect x="124.7" y="169.0" width="1.0" height="1.3" fill="#f5cf5a" opacity="0.75"/><rect x="103.9" y="149.4" width="1.0" height="1.6" fill="#f5cf5a" opacity="0.75"/><rect x="49.1" y="216.1" width="1.4" height="1.2" fill="#ffffff" opacity="0.75"/><rect x="88.0" y="119.8" width="0.7" height="0.5" fill="#fbe49a" opacity="0.75"/><rect x="32.9" y="171.4" width="1.3" height="2.0" fill="#ffffff" opacity="0.75"/><rect x="44.6" y="206.0" width="0.6" height="0.7" fill="#f7d66a" opacity="0.75"/><rect x="92.2" y="194.6" width="1.1" height="0.9" fill="#fbe49a" opacity="0.75"/><rect x="48.2" y="197.6" width="1.2" height="1.2" fill="#f7d66a" opacity="0.75"/><rect x="32.5" y="193.1" width="1.6" height="2.5" fill="#fff7dc" opacity="0.75"/><rect x="75.0" y="187.8" width="1.7" height="2.1" fill="#f7d66a" opacity="0.75"/><rect x="100.0" y="164.8" width="1.2" height="1.5" fill="#f7d66a" opacity="0.75"/><rect x="126.7" y="170.5" width="0.9" height="1.1" fill="#ffffff" opacity="0.75"/><rect x="64.5" y="123.6" width="1.6" height="2.1" fill="#fbe49a" opacity="0.75"/><rect x="129.7" y="170.9" width="0.9" height="1.0" fill="#f5cf5a" opacity="0.75"/><rect x="47.8" y="197.8" width="1.3" height="1.0" fill="#f5cf5a" opacity="0.75"/><rect x="108.0" y="151.4" width="1.7" height="1.3" fill="#ffffff" opacity="0.75"/><rect x="93.4" y="206.3" width="1.2" height="1.4" fill="#fbe49a" opacity="0.75"/><rect x="45.6" y="207.2" width="1.6" height="1.4" fill="#ffffff" opacity="0.75"/><rect x="56.7" y="183.8" width="1.4" height="2.0" fill="#fff7dc" opacity="0.75"/><rect x="73.6" y="102.2" width="1.3" height="1.5" fill="#fff7dc" opacity="0.75"/><rect x="85.1" y="167.8" width="1.5" height="1.7" fill="#ffffff" opacity="0.75"/><rect x="39.7" y="151.5" width="1.1" height="1.7" fill="#f7d66a" opacity="0.75"/><rect x="42.6" y="127.6" width="1.4" height="1.8" fill="#f7d66a" opacity="0.75"/><rect x="57.6" y="200.5" width="0.9" height="0.5" fill="#ffffff" opacity="0.75"/><rect x="75.0" y="163.9" width="1.0" height="0.6" fill="#ffffff" opacity="0.75"/><rect x="50.4" y="192.1" width="0.9" height="0.7" fill="#fbe49a" opacity="0.75"/><rect x="97.5" y="122.8" width="0.8" height="0.9" fill="#f5cf5a" opacity="0.75"/><rect x="114.6" y="117.9" width="1.1" height="1.5" fill="#fff7dc" opacity="0.75"/><rect x="76.9" y="219.6" width="1.2" height="1.3" fill="#ffffff" opacity="0.75"/><rect x="33.4" y="151.3" width="0.9" height="0.8" fill="#fbe49a" opacity="0.75"/><rect x="38.7" y="193.4" width="1.3" height="1.2" fill="#f7d66a" opacity="0.75"/><rect x="94.5" y="217.4" width="1.4" height="1.8" fill="#f5cf5a" opacity="0.75"/><rect x="73.7" y="115.5" width="1.2" height="1.0" fill="#ffffff" opacity="0.75"/><rect x="33.9" y="134.2" width="0.7" height="0.6" fill="#fbe49a" opacity="0.75"/><rect x="117.1" y="151.2" width="1.3" height="0.8" fill="#f5cf5a" opacity="0.75"/><rect x="66.5" y="198.2" width="1.2" height="0.9" fill="#f7d66a" opacity="0.75"/><rect x="109.6" y="116.1" width="1.4" height="1.0" fill="#fff7dc" opacity="0.75"/><rect x="23.1" y="135.6" width="1.3" height="1.5" fill="#ffffff" opacity="0.75"/><rect x="120.9" y="179.1" width="1.2" height="1.7" fill="#f7d66a" opacity="0.75"/><rect x="62.6" y="132.7" width="1.4" height="2.0" fill="#ffffff" opacity="0.75"/><rect x="130.6" y="155.9" width="0.6" height="0.5" fill="#f5cf5a" opacity="0.75"/></g>
<g><path d="M-3.2 -1.9L3.2 -1.9L0 3.2Z" fill="#e0202a" transform="translate(33.0 164.0) rotate(336)"/><path d="M-2.4 -1.4L2.4 -1.4L0 2.4Z" fill="#e0202a" transform="translate(38.0 150.0) rotate(309)"/><path d="M-3.5 -2.1L3.5 -2.1L0 3.5Z" fill="#d91c24" transform="translate(103.0 148.0) rotate(124)"/><path d="M-3.2 -1.9L3.2 -1.9L0 3.2Z" fill="#e0202a" transform="translate(117.0 154.0) rotate(170)"/><path d="M-3.5 -2.1L3.5 -2.1L0 3.5Z" fill="#e8303a" transform="translate(110.0 195.0) rotate(286)"/><path d="M-2.6 -1.5L2.6 -1.5L0 2.6Z" fill="#e8303a" transform="translate(105.0 173.0) rotate(51)"/><path d="M-2.9 -1.7L2.9 -1.7L0 2.9Z" fill="#d91c24" transform="translate(80.0 216.0) rotate(94)"/><path d="M-2.4 -1.4L2.4 -1.4L0 2.4Z" fill="#e8303a" transform="translate(73.0 212.0) rotate(96)"/><path d="M-2.9 -1.7L2.9 -1.7L0 2.9Z" fill="#e0202a" transform="translate(127.0 174.0) rotate(114)"/><path d="M-2.6 -1.5L2.6 -1.5L0 2.6Z" fill="#d91c24" transform="translate(115.0 205.0) rotate(29)"/><path d="M-2.9 -1.7L2.9 -1.7L0 2.9Z" fill="#e8303a" transform="translate(92.0 206.0) rotate(17)"/><path d="M-2.6 -1.5L2.6 -1.5L0 2.6Z" fill="#e0202a" transform="translate(55.0 177.0) rotate(71)"/><path d="M-2.4 -1.4L2.4 -1.4L0 2.4Z" fill="#e0202a" transform="translate(44.0 178.0) rotate(324)"/><path d="M-2.2 -1.3L2.2 -1.3L0 2.2Z" fill="#d91c24" transform="translate(60.0 200.0) rotate(83)"/><path d="M-2.9 -1.7L2.9 -1.7L0 2.9Z" fill="#d91c24" transform="translate(112.0 140.0) rotate(330)"/><path d="M-2.9 -1.7L2.9 -1.7L0 2.9Z" fill="#e8303a" transform="translate(99.0 131.0) rotate(132)"/><path d="M-2.6 -1.5L2.6 -1.5L0 2.6Z" fill="#d91c24" transform="translate(120.0 190.0) rotate(94)"/><path d="M-2.6 -1.5L2.6 -1.5L0 2.6Z" fill="#e0202a" transform="translate(52.0 160.0) rotate(325)"/><path d="M-2.6 -1.5L2.6 -1.5L0 2.6Z" fill="#e0202a" transform="translate(85.0 198.0) rotate(314)"/><path d="M-2.2 -1.3L2.2 -1.3L0 2.2Z" fill="#e0202a" transform="translate(127.0 189.0) rotate(350)"/><path d="M-2.2 -1.3L2.2 -1.3L0 2.2Z" fill="#d91c24" transform="translate(47.0 165.0) rotate(288)"/><path d="M-2.4 -1.4L2.4 -1.4L0 2.4Z" fill="#e8303a" transform="translate(57.0 168.0) rotate(196)"/><path d="M-2.2 -1.3L2.2 -1.3L0 2.2Z" fill="#d91c24" transform="translate(63.0 180.0) rotate(129)"/><path d="M-2.2 -1.3L2.2 -1.3L0 2.2Z" fill="#e0202a" transform="translate(100.0 190.0) rotate(331)"/><path d="M-2.4 -1.4L2.4 -1.4L0 2.4Z" fill="#d91c24" transform="translate(106.0 162.0) rotate(212)"/><path d="M-1.9 -1.2L1.9 -1.2L0 1.9Z" fill="#e0202a" transform="translate(30.0 120.0) rotate(335)"/><path d="M-1.9 -1.2L1.9 -1.2L0 1.9Z" fill="#e8303a" transform="translate(95.0 112.0) rotate(122)"/><circle cx="60.8" cy="227.5" r="0.9" fill="#e8333a" opacity="0.61"/><circle cx="117.6" cy="135.9" r="0.5" fill="#f07a7a" opacity="0.92"/><circle cx="33.5" cy="185.6" r="0.5" fill="#e42a30" opacity="0.52"/><circle cx="136.2" cy="170.9" r="0.7" fill="#e42a30" opacity="0.68"/><circle cx="117.4" cy="138.7" r="0.8" fill="#f0555a" opacity="0.73"/><circle cx="17.2" cy="158.1" r="0.8" fill="#f0555a" opacity="0.70"/><circle cx="10.1" cy="138.7" r="0.5" fill="#f07a7a" opacity="0.71"/><circle cx="131.2" cy="170.1" r="0.7" fill="#e8333a" opacity="0.82"/><circle cx="92.1" cy="185.1" r="1.1" fill="#e8333a" opacity="0.77"/><circle cx="74.5" cy="180.4" r="0.7" fill="#f07a7a" opacity="0.59"/><circle cx="92.9" cy="200.2" r="0.7" fill="#f0555a" opacity="0.67"/><circle cx="100.9" cy="159.2" r="1.1" fill="#e8333a" opacity="0.59"/><circle cx="106.6" cy="124.5" r="0.7" fill="#e42a30" opacity="0.92"/><circle cx="94.8" cy="186.3" r="0.9" fill="#e42a30" opacity="0.92"/><circle cx="110.2" cy="192.9" r="0.6" fill="#e42a30" opacity="0.63"/><circle cx="85.5" cy="193.9" r="1.0" fill="#e42a30" opacity="0.55"/><circle cx="125.0" cy="150.3" r="1.0" fill="#e42a30" opacity="0.77"/><circle cx="116.5" cy="110.9" r="0.6" fill="#f0555a" opacity="0.88"/><circle cx="36.2" cy="97.5" r="0.5" fill="#f07a7a" opacity="0.72"/><circle cx="118.7" cy="191.6" r="0.9" fill="#f07a7a" opacity="0.78"/><circle cx="66.5" cy="191.4" r="0.8" fill="#f0555a" opacity="0.62"/><circle cx="25.6" cy="156.0" r="0.8" fill="#e42a30" opacity="0.59"/><circle cx="102.3" cy="158.4" r="0.6" fill="#e8333a" opacity="0.53"/><circle cx="19.8" cy="164.9" r="1.0" fill="#f07a7a" opacity="0.62"/><circle cx="26.2" cy="145.2" r="1.0" fill="#f0555a" opacity="0.56"/><circle cx="30.8" cy="124.5" r="0.7" fill="#f0555a" opacity="0.75"/><circle cx="89.0" cy="211.5" r="0.7" fill="#e8333a" opacity="0.67"/><circle cx="70.7" cy="201.2" r="1.0" fill="#e8333a" opacity="0.53"/><circle cx="108.6" cy="188.6" r="1.0" fill="#f0555a" opacity="0.74"/><circle cx="104.1" cy="196.0" r="1.0" fill="#e42a30" opacity="0.91"/><circle cx="38.0" cy="197.7" r="0.7" fill="#f07a7a" opacity="0.75"/><circle cx="20.2" cy="124.6" r="0.9" fill="#e42a30" opacity="0.63"/><circle cx="38.9" cy="130.1" r="0.8" fill="#e8333a" opacity="0.74"/><circle cx="51.3" cy="186.6" r="0.5" fill="#e42a30" opacity="0.53"/><circle cx="60.2" cy="229.7" r="0.9" fill="#f07a7a" opacity="0.81"/><circle cx="110.0" cy="197.4" r="0.8" fill="#f0555a" opacity="0.70"/><circle cx="74.1" cy="177.6" r="0.9" fill="#e42a30" opacity="0.67"/><circle cx="132.5" cy="162.9" r="0.7" fill="#f0555a" opacity="0.57"/><circle cx="117.6" cy="202.7" r="0.9" fill="#f0555a" opacity="0.60"/><circle cx="28.2" cy="175.6" r="0.4" fill="#e8333a" opacity="0.65"/><circle cx="106.3" cy="207.5" r="0.5" fill="#e8333a" opacity="0.94"/><circle cx="54.8" cy="192.4" r="1.0" fill="#f0555a" opacity="0.87"/><circle cx="24.0" cy="188.9" r="1.1" fill="#f07a7a" opacity="0.92"/><circle cx="116.7" cy="141.1" r="0.6" fill="#f07a7a" opacity="0.91"/><circle cx="11.0" cy="137.2" r="1.0" fill="#f0555a" opacity="0.58"/><circle cx="12.2" cy="150.7" r="0.8" fill="#e42a30" opacity="0.84"/><circle cx="53.4" cy="193.0" r="0.9" fill="#f0555a" opacity="0.71"/><circle cx="100.0" cy="215.4" r="0.7" fill="#f07a7a" opacity="0.66"/><circle cx="58.7" cy="174.3" r="1.1" fill="#f0555a" opacity="0.56"/><circle cx="30.4" cy="117.2" r="0.8" fill="#f07a7a" opacity="0.68"/><circle cx="44.4" cy="177.8" r="0.9" fill="#e42a30" opacity="0.71"/><circle cx="60.2" cy="213.8" r="0.4" fill="#f07a7a" opacity="0.64"/><circle cx="117.5" cy="195.9" r="1.0" fill="#e42a30" opacity="0.77"/><circle cx="38.3" cy="113.9" r="1.1" fill="#e8333a" opacity="0.74"/><circle cx="21.8" cy="131.3" r="0.7" fill="#e8333a" opacity="0.55"/><circle cx="121.6" cy="187.8" r="0.8" fill="#e8333a" opacity="0.61"/><circle cx="32.9" cy="167.2" r="0.6" fill="#f07a7a" opacity="0.70"/><circle cx="71.2" cy="176.3" r="0.8" fill="#e8333a" opacity="0.56"/><circle cx="101.6" cy="180.1" r="0.5" fill="#e42a30" opacity="0.76"/><circle cx="123.1" cy="114.2" r="0.9" fill="#e8333a" opacity="0.71"/><circle cx="95.1" cy="198.3" r="0.7" fill="#f07a7a" opacity="0.54"/><circle cx="106.2" cy="219.6" r="0.6" fill="#f07a7a" opacity="0.56"/><circle cx="93.8" cy="202.4" r="0.8" fill="#e42a30" opacity="0.55"/><circle cx="53.9" cy="193.2" r="0.7" fill="#f07a7a" opacity="0.54"/><circle cx="66.1" cy="220.0" r="0.8" fill="#f0555a" opacity="0.69"/><circle cx="85.8" cy="176.3" r="0.8" fill="#f07a7a" opacity="0.50"/><circle cx="130.0" cy="152.7" r="0.7" fill="#f0555a" opacity="0.71"/><circle cx="26.6" cy="159.8" r="0.9" fill="#e42a30" opacity="0.57"/><circle cx="79.2" cy="227.2" r="1.0" fill="#f07a7a" opacity="0.88"/><circle cx="59.3" cy="223.2" r="0.8" fill="#e42a30" opacity="0.70"/><circle cx="34.6" cy="169.8" r="0.7" fill="#f07a7a" opacity="0.73"/><circle cx="129.4" cy="137.4" r="1.1" fill="#f0555a" opacity="0.57"/><circle cx="28.5" cy="149.9" r="1.1" fill="#e8333a" opacity="0.90"/><circle cx="74.4" cy="174.2" r="0.9" fill="#e8333a" opacity="0.77"/><circle cx="78.1" cy="171.9" r="0.4" fill="#f0555a" opacity="0.58"/><circle cx="82.4" cy="194.1" r="0.7" fill="#e8333a" opacity="0.83"/><circle cx="59.7" cy="198.7" r="0.6" fill="#f07a7a" opacity="0.55"/><circle cx="133.7" cy="144.0" r="0.4" fill="#e42a30" opacity="0.77"/><circle cx="133.0" cy="139.8" r="0.5" fill="#e42a30" opacity="0.59"/><circle cx="59.9" cy="198.1" r="1.0" fill="#e42a30" opacity="0.59"/><circle cx="119.8" cy="117.4" r="0.8" fill="#e8333a" opacity="0.63"/><circle cx="120.4" cy="124.3" r="0.7" fill="#e8333a" opacity="0.77"/><circle cx="73.5" cy="218.2" r="0.6" fill="#f0555a" opacity="0.72"/><circle cx="68.4" cy="189.4" r="1.0" fill="#e42a30" opacity="0.67"/><circle cx="23.0" cy="126.6" r="0.5" fill="#e8333a" opacity="0.50"/><circle cx="76.4" cy="222.2" r="0.8" fill="#e8333a" opacity="0.66"/><circle cx="32.5" cy="174.5" r="0.4" fill="#e8333a" opacity="0.68"/><circle cx="99.8" cy="180.1" r="0.6" fill="#f07a7a" opacity="0.86"/><circle cx="30.7" cy="169.5" r="0.8" fill="#e8333a" opacity="0.87"/><circle cx="15.3" cy="133.1" r="0.8" fill="#f0555a" opacity="0.67"/><circle cx="80.4" cy="217.6" r="1.0" fill="#e42a30" opacity="0.93"/><circle cx="39.6" cy="181.5" r="1.1" fill="#e8333a" opacity="0.52"/><circle cx="41.4" cy="162.5" r="0.5" fill="#f07a7a" opacity="0.92"/><circle cx="98.7" cy="187.9" r="0.6" fill="#e8333a" opacity="0.58"/><circle cx="41.0" cy="189.3" r="0.8" fill="#f0555a" opacity="0.77"/><circle cx="36.9" cy="17" r="0.9" fill="#ee4a50" opacity="0.8"/><circle cx="46.3" cy="18.9" r="0.9" fill="#ee4a50" opacity="0.8"/><circle cx="49.7" cy="12.9" r="0.9" fill="#ee4a50" opacity="0.8"/><circle cx="34" cy="7" r="0.9" fill="#ee4a50" opacity="0.8"/><circle cx="90.9" cy="21.4" r="0.9" fill="#ee4a50" opacity="0.8"/><circle cx="79.7" cy="26.6" r="0.9" fill="#ee4a50" opacity="0.8"/><circle cx="98.6" cy="30.9" r="0.9" fill="#ee4a50" opacity="0.8"/><circle cx="77" cy="41" r="0.9" fill="#ee4a50" opacity="0.8"/><circle cx="86.6" cy="40.3" r="0.9" fill="#ee4a50" opacity="0.8"/><circle cx="85.7" cy="20.6" r="0.9" fill="#ee4a50" opacity="0.8"/><circle cx="28" cy="88" r="0.9" fill="#ee4a50" opacity="0.8"/><circle cx="33" cy="92" r="0.9" fill="#ee4a50" opacity="0.8"/><circle cx="20" cy="100" r="0.9" fill="#ee4a50" opacity="0.8"/><circle cx="30" cy="118" r="0.9" fill="#ee4a50" opacity="0.8"/><circle cx="24" cy="112" r="0.9" fill="#ee4a50" opacity="0.8"/></g>
<path d="M57 76 L60 86" stroke="#c9602a" stroke-width="0.8" fill="none"/>
<g transform="translate(70.9 90.8) rotate(-50)"><rect x="-6.0" y="-9.5" width="12" height="19" rx="1.2" fill="#a80c12"/><rect x="-4.5" y="-9.5" width="8" height="19" fill="#d41a1a"/><ellipse cx="0" cy="-8.9" rx="6.0" ry="1.5" fill="#e8a41e"/><ellipse cx="0" cy="-8.3" rx="5.4" ry="1.1" fill="#b5121a"/><ellipse cx="0" cy="8.7" rx="6.5" ry="2.8" fill="#f2b022"/><ellipse cx="0" cy="7.5" rx="5.0" ry="1.6" fill="#c0141a"/><path d="M-2 -2.5 C-1 -3.2 0 -2.2 0 -1.6 C0 -2.2 1 -3.2 2 -2.5 C2.6 -1.5 1 0.3 0 1.4 C-1 0.3 -2.6 -1.5 -2 -2.5Z" fill="#fff" opacity="0.95"/></g>
<g transform="translate(53.7 95.1) rotate(42)"><rect x="-6.0" y="-9.5" width="12" height="19" rx="1.2" fill="#a80c12"/><rect x="-4.5" y="-9.5" width="8" height="19" fill="#d41a1a"/><ellipse cx="0" cy="-8.9" rx="6.0" ry="1.5" fill="#e8a41e"/><ellipse cx="0" cy="-8.3" rx="5.4" ry="1.1" fill="#b5121a"/><ellipse cx="0" cy="8.7" rx="6.5" ry="2.8" fill="#f2b022"/><ellipse cx="0" cy="7.5" rx="5.0" ry="1.6" fill="#c0141a"/><path d="M-2 -2.5 C-1 -3.2 0 -2.2 0 -1.6 C0 -2.2 1 -3.2 2 -2.5 C2.6 -1.5 1 0.3 0 1.4 C-1 0.3 -2.6 -1.5 -2 -2.5Z" fill="#fff" opacity="0.95"/></g>
<g transform="translate(64.4 101.5) rotate(10)"><rect x="-6.0" y="-9.5" width="12" height="19" rx="1.2" fill="#a80c12"/><rect x="-4.5" y="-9.5" width="8" height="19" fill="#d41a1a"/><ellipse cx="0" cy="-8.9" rx="6.0" ry="1.5" fill="#e8a41e"/><ellipse cx="0" cy="-8.3" rx="5.4" ry="1.1" fill="#b5121a"/><ellipse cx="0" cy="8.7" rx="6.5" ry="2.8" fill="#f2b022"/><ellipse cx="0" cy="7.5" rx="5.0" ry="1.6" fill="#c0141a"/><path d="M-2 -2.5 C-1 -3.2 0 -2.2 0 -1.6 C0 -2.2 1 -3.2 2 -2.5 C2.6 -1.5 1 0.3 0 1.4 C-1 0.3 -2.6 -1.5 -2 -2.5Z" fill="#fff" opacity="0.95"/></g>
<g transform="translate(77.3 108) rotate(-49)"><rect x="-6.0" y="-9.5" width="12" height="19" rx="1.2" fill="#a80c12"/><rect x="-4.5" y="-9.5" width="8" height="19" fill="#d41a1a"/><ellipse cx="0" cy="-8.9" rx="6.0" ry="1.5" fill="#e8a41e"/><ellipse cx="0" cy="-8.3" rx="5.4" ry="1.1" fill="#b5121a"/><ellipse cx="0" cy="8.7" rx="6.5" ry="2.8" fill="#f2b022"/><ellipse cx="0" cy="7.5" rx="5.0" ry="1.6" fill="#c0141a"/><path d="M-2 -2.5 C-1 -3.2 0 -2.2 0 -1.6 C0 -2.2 1 -3.2 2 -2.5 C2.6 -1.5 1 0.3 0 1.4 C-1 0.3 -2.6 -1.5 -2 -2.5Z" fill="#fff" opacity="0.95"/></g>
<g transform="translate(53.7 110.8) rotate(35)"><rect x="-6.0" y="-9.5" width="12" height="19" rx="1.2" fill="#a80c12"/><rect x="-4.5" y="-9.5" width="8" height="19" fill="#d41a1a"/><ellipse cx="0" cy="-8.9" rx="6.0" ry="1.5" fill="#e8a41e"/><ellipse cx="0" cy="-8.3" rx="5.4" ry="1.1" fill="#b5121a"/><ellipse cx="0" cy="8.7" rx="6.5" ry="2.8" fill="#f2b022"/><ellipse cx="0" cy="7.5" rx="5.0" ry="1.6" fill="#c0141a"/><path d="M-2 -2.5 C-1 -3.2 0 -2.2 0 -1.6 C0 -2.2 1 -3.2 2 -2.5 C2.6 -1.5 1 0.3 0 1.4 C-1 0.3 -2.6 -1.5 -2 -2.5Z" fill="#fff" opacity="0.95"/></g>
<g transform="translate(63 119.4) rotate(20)"><rect x="-6.0" y="-9.5" width="12" height="19" rx="1.2" fill="#a80c12"/><rect x="-4.5" y="-9.5" width="8" height="19" fill="#d41a1a"/><ellipse cx="0" cy="-8.9" rx="6.0" ry="1.5" fill="#e8a41e"/><ellipse cx="0" cy="-8.3" rx="5.4" ry="1.1" fill="#b5121a"/><ellipse cx="0" cy="8.7" rx="6.5" ry="2.8" fill="#f2b022"/><ellipse cx="0" cy="7.5" rx="5.0" ry="1.6" fill="#c0141a"/><path d="M-2 -2.5 C-1 -3.2 0 -2.2 0 -1.6 C0 -2.2 1 -3.2 2 -2.5 C2.6 -1.5 1 0.3 0 1.4 C-1 0.3 -2.6 -1.5 -2 -2.5Z" fill="#fff" opacity="0.95"/></g>
<g transform="translate(73 118) rotate(-34)"><rect x="-6.0" y="-9.5" width="12" height="19" rx="1.2" fill="#a80c12"/><rect x="-4.5" y="-9.5" width="8" height="19" fill="#d41a1a"/><ellipse cx="0" cy="-8.9" rx="6.0" ry="1.5" fill="#e8a41e"/><ellipse cx="0" cy="-8.3" rx="5.4" ry="1.1" fill="#b5121a"/><ellipse cx="0" cy="8.7" rx="6.5" ry="2.8" fill="#f2b022"/><ellipse cx="0" cy="7.5" rx="5.0" ry="1.6" fill="#c0141a"/><path d="M-2 -2.5 C-1 -3.2 0 -2.2 0 -1.6 C0 -2.2 1 -3.2 2 -2.5 C2.6 -1.5 1 0.3 0 1.4 C-1 0.3 -2.6 -1.5 -2 -2.5Z" fill="#fff" opacity="0.95"/></g>
<g transform="translate(87.3 122.3) rotate(-70)"><rect x="-6.0" y="-9.5" width="12" height="19" rx="1.2" fill="#a80c12"/><rect x="-4.5" y="-9.5" width="8" height="19" fill="#d41a1a"/><ellipse cx="0" cy="-8.9" rx="6.0" ry="1.5" fill="#e8a41e"/><ellipse cx="0" cy="-8.3" rx="5.4" ry="1.1" fill="#b5121a"/><ellipse cx="0" cy="8.7" rx="6.5" ry="2.8" fill="#f2b022"/><ellipse cx="0" cy="7.5" rx="5.0" ry="1.6" fill="#c0141a"/><path d="M-2 -2.5 C-1 -3.2 0 -2.2 0 -1.6 C0 -2.2 1 -3.2 2 -2.5 C2.6 -1.5 1 0.3 0 1.4 C-1 0.3 -2.6 -1.5 -2 -2.5Z" fill="#fff" opacity="0.95"/></g>
<g transform="translate(48.6 129.5) rotate(45)"><rect x="-6.0" y="-9.5" width="12" height="19" rx="1.2" fill="#a80c12"/><rect x="-4.5" y="-9.5" width="8" height="19" fill="#d41a1a"/><ellipse cx="0" cy="-8.9" rx="6.0" ry="1.5" fill="#e8a41e"/><ellipse cx="0" cy="-8.3" rx="5.4" ry="1.1" fill="#b5121a"/><ellipse cx="0" cy="8.7" rx="6.5" ry="2.8" fill="#f2b022"/><ellipse cx="0" cy="7.5" rx="5.0" ry="1.6" fill="#c0141a"/><path d="M-2 -2.5 C-1 -3.2 0 -2.2 0 -1.6 C0 -2.2 1 -3.2 2 -2.5 C2.6 -1.5 1 0.3 0 1.4 C-1 0.3 -2.6 -1.5 -2 -2.5Z" fill="#fff" opacity="0.95"/></g>
<g transform="translate(70.1 130.9) rotate(-10)"><rect x="-6.0" y="-9.5" width="12" height="19" rx="1.2" fill="#a80c12"/><rect x="-4.5" y="-9.5" width="8" height="19" fill="#d41a1a"/><ellipse cx="0" cy="-8.9" rx="6.0" ry="1.5" fill="#e8a41e"/><ellipse cx="0" cy="-8.3" rx="5.4" ry="1.1" fill="#b5121a"/><ellipse cx="0" cy="8.7" rx="6.5" ry="2.8" fill="#f2b022"/><ellipse cx="0" cy="7.5" rx="5.0" ry="1.6" fill="#c0141a"/><path d="M-2 -2.5 C-1 -3.2 0 -2.2 0 -1.6 C0 -2.2 1 -3.2 2 -2.5 C2.6 -1.5 1 0.3 0 1.4 C-1 0.3 -2.6 -1.5 -2 -2.5Z" fill="#fff" opacity="0.95"/></g>
<g transform="translate(81.6 132.3) rotate(-45)"><rect x="-6.0" y="-9.5" width="12" height="19" rx="1.2" fill="#a80c12"/><rect x="-4.5" y="-9.5" width="8" height="19" fill="#d41a1a"/><ellipse cx="0" cy="-8.9" rx="6.0" ry="1.5" fill="#e8a41e"/><ellipse cx="0" cy="-8.3" rx="5.4" ry="1.1" fill="#b5121a"/><ellipse cx="0" cy="8.7" rx="6.5" ry="2.8" fill="#f2b022"/><ellipse cx="0" cy="7.5" rx="5.0" ry="1.6" fill="#c0141a"/><path d="M-2 -2.5 C-1 -3.2 0 -2.2 0 -1.6 C0 -2.2 1 -3.2 2 -2.5 C2.6 -1.5 1 0.3 0 1.4 C-1 0.3 -2.6 -1.5 -2 -2.5Z" fill="#fff" opacity="0.95"/></g>
<g transform="translate(60.1 136.6) rotate(22)"><rect x="-6.0" y="-9.5" width="12" height="19" rx="1.2" fill="#a80c12"/><rect x="-4.5" y="-9.5" width="8" height="19" fill="#d41a1a"/><ellipse cx="0" cy="-8.9" rx="6.0" ry="1.5" fill="#e8a41e"/><ellipse cx="0" cy="-8.3" rx="5.4" ry="1.1" fill="#b5121a"/><ellipse cx="0" cy="8.7" rx="6.5" ry="2.8" fill="#f2b022"/><ellipse cx="0" cy="7.5" rx="5.0" ry="1.6" fill="#c0141a"/><path d="M-2 -2.5 C-1 -3.2 0 -2.2 0 -1.6 C0 -2.2 1 -3.2 2 -2.5 C2.6 -1.5 1 0.3 0 1.4 C-1 0.3 -2.6 -1.5 -2 -2.5Z" fill="#fff" opacity="0.95"/></g>
<g transform="translate(47.2 141) rotate(35)"><rect x="-6.0" y="-9.5" width="12" height="19" rx="1.2" fill="#a80c12"/><rect x="-4.5" y="-9.5" width="8" height="19" fill="#d41a1a"/><ellipse cx="0" cy="-8.9" rx="6.0" ry="1.5" fill="#e8a41e"/><ellipse cx="0" cy="-8.3" rx="5.4" ry="1.1" fill="#b5121a"/><ellipse cx="0" cy="8.7" rx="6.5" ry="2.8" fill="#f2b022"/><ellipse cx="0" cy="7.5" rx="5.0" ry="1.6" fill="#c0141a"/><path d="M-2 -2.5 C-1 -3.2 0 -2.2 0 -1.6 C0 -2.2 1 -3.2 2 -2.5 C2.6 -1.5 1 0.3 0 1.4 C-1 0.3 -2.6 -1.5 -2 -2.5Z" fill="#fff" opacity="0.95"/></g>
<g transform="translate(65.8 148.1) rotate(30)"><rect x="-6.0" y="-9.5" width="12" height="19" rx="1.2" fill="#a80c12"/><rect x="-4.5" y="-9.5" width="8" height="19" fill="#d41a1a"/><ellipse cx="0" cy="-8.9" rx="6.0" ry="1.5" fill="#e8a41e"/><ellipse cx="0" cy="-8.3" rx="5.4" ry="1.1" fill="#b5121a"/><ellipse cx="0" cy="8.7" rx="6.5" ry="2.8" fill="#f2b022"/><ellipse cx="0" cy="7.5" rx="5.0" ry="1.6" fill="#c0141a"/><path d="M-2 -2.5 C-1 -3.2 0 -2.2 0 -1.6 C0 -2.2 1 -3.2 2 -2.5 C2.6 -1.5 1 0.3 0 1.4 C-1 0.3 -2.6 -1.5 -2 -2.5Z" fill="#fff" opacity="0.95"/></g>
<g transform="translate(78.7 145.2) rotate(-20)"><rect x="-6.0" y="-9.5" width="12" height="19" rx="1.2" fill="#a80c12"/><rect x="-4.5" y="-9.5" width="8" height="19" fill="#d41a1a"/><ellipse cx="0" cy="-8.9" rx="6.0" ry="1.5" fill="#e8a41e"/><ellipse cx="0" cy="-8.3" rx="5.4" ry="1.1" fill="#b5121a"/><ellipse cx="0" cy="8.7" rx="6.5" ry="2.8" fill="#f2b022"/><ellipse cx="0" cy="7.5" rx="5.0" ry="1.6" fill="#c0141a"/><path d="M-2 -2.5 C-1 -3.2 0 -2.2 0 -1.6 C0 -2.2 1 -3.2 2 -2.5 C2.6 -1.5 1 0.3 0 1.4 C-1 0.3 -2.6 -1.5 -2 -2.5Z" fill="#fff" opacity="0.95"/></g>
<g transform="translate(91.6 149.6) rotate(-45)"><rect x="-6.0" y="-9.5" width="12" height="19" rx="1.2" fill="#a80c12"/><rect x="-4.5" y="-9.5" width="8" height="19" fill="#d41a1a"/><ellipse cx="0" cy="-8.9" rx="6.0" ry="1.5" fill="#e8a41e"/><ellipse cx="0" cy="-8.3" rx="5.4" ry="1.1" fill="#b5121a"/><ellipse cx="0" cy="8.7" rx="6.5" ry="2.8" fill="#f2b022"/><ellipse cx="0" cy="7.5" rx="5.0" ry="1.6" fill="#c0141a"/><path d="M-2 -2.5 C-1 -3.2 0 -2.2 0 -1.6 C0 -2.2 1 -3.2 2 -2.5 C2.6 -1.5 1 0.3 0 1.4 C-1 0.3 -2.6 -1.5 -2 -2.5Z" fill="#fff" opacity="0.95"/></g>
<g transform="translate(68.7 155.3) rotate(10)"><rect x="-6.0" y="-9.5" width="12" height="19" rx="1.2" fill="#a80c12"/><rect x="-4.5" y="-9.5" width="8" height="19" fill="#d41a1a"/><ellipse cx="0" cy="-8.9" rx="6.0" ry="1.5" fill="#e8a41e"/><ellipse cx="0" cy="-8.3" rx="5.4" ry="1.1" fill="#b5121a"/><ellipse cx="0" cy="8.7" rx="6.5" ry="2.8" fill="#f2b022"/><ellipse cx="0" cy="7.5" rx="5.0" ry="1.6" fill="#c0141a"/><path d="M-2 -2.5 C-1 -3.2 0 -2.2 0 -1.6 C0 -2.2 1 -3.2 2 -2.5 C2.6 -1.5 1 0.3 0 1.4 C-1 0.3 -2.6 -1.5 -2 -2.5Z" fill="#fff" opacity="0.95"/></g>
<g transform="translate(82.3 159.6) rotate(-5)"><rect x="-6.0" y="-9.5" width="12" height="19" rx="1.2" fill="#a80c12"/><rect x="-4.5" y="-9.5" width="8" height="19" fill="#d41a1a"/><ellipse cx="0" cy="-8.9" rx="6.0" ry="1.5" fill="#e8a41e"/><ellipse cx="0" cy="-8.3" rx="5.4" ry="1.1" fill="#b5121a"/><ellipse cx="0" cy="8.7" rx="6.5" ry="2.8" fill="#f2b022"/><ellipse cx="0" cy="7.5" rx="5.0" ry="1.6" fill="#c0141a"/><path d="M-2 -2.5 C-1 -3.2 0 -2.2 0 -1.6 C0 -2.2 1 -3.2 2 -2.5 C2.6 -1.5 1 0.3 0 1.4 C-1 0.3 -2.6 -1.5 -2 -2.5Z" fill="#fff" opacity="0.95"/></g>
<g transform="translate(68.7 180.4) rotate(0)"><rect x="-5.0" y="-9.5" width="10" height="19" rx="1.2" fill="#a80c12"/><rect x="-3.5" y="-9.5" width="6" height="19" fill="#d41a1a"/><ellipse cx="0" cy="-8.9" rx="5.0" ry="1.5" fill="#e8a41e"/><ellipse cx="0" cy="-8.3" rx="4.4" ry="1.1" fill="#b5121a"/><ellipse cx="0" cy="8.7" rx="5.5" ry="2.8" fill="#f2b022"/><ellipse cx="0" cy="7.5" rx="4.0" ry="1.6" fill="#c0141a"/><ellipse cx="0" cy="-8.5" rx="5.0" ry="2" fill="#f2b022"/><path d="M-2 -2.5 C-1 -3.2 0 -2.2 0 -1.6 C0 -2.2 1 -3.2 2 -2.5 C2.6 -1.5 1 0.3 0 1.4 C-1 0.3 -2.6 -1.5 -2 -2.5Z" fill="#fff" opacity="0.95"/></g>
<g transform="translate(90.9 184) rotate(-30)"><rect x="-4.5" y="-6.0" width="9" height="12" rx="1.2" fill="#a80c12"/><rect x="-3.0" y="-6.0" width="5" height="12" fill="#d41a1a"/><ellipse cx="0" cy="-5.4" rx="4.5" ry="1.5" fill="#e8a41e"/><ellipse cx="0" cy="-4.8" rx="3.9" ry="1.1" fill="#b5121a"/><ellipse cx="0" cy="5.2" rx="5.0" ry="2.8" fill="#f2b022"/><ellipse cx="0" cy="4.0" rx="3.5" ry="1.6" fill="#c0141a"/><path d="M-2 -2.5 C-1 -3.2 0 -2.2 0 -1.6 C0 -2.2 1 -3.2 2 -2.5 C2.6 -1.5 1 0.3 0 1.4 C-1 0.3 -2.6 -1.5 -2 -2.5Z" fill="#fff" opacity="0.95"/></g>
<path d="M49 42 C41 34 41 27 45 25.5 C49 24 52 31 53 41" stroke="#e2583a" stroke-width="0.9" fill="none"/>
<ellipse cx="55" cy="58.5" rx="19" ry="15.8" fill="url(#lg)"/>
<path d="M55 43 C47 50 47 67 55 74 M55 43 C63 50 63 67 55 74 M55 43 C42 48 40 68 55 74 M55 43 C68 48 70 68 55 74" stroke="#f6b848" stroke-width="0.6" fill="none" opacity="0.55"/>
<path d="M40 52 C38 57 38 62 40 66" stroke="#fff" stroke-width="1.1" fill="none" opacity="0.7"/>
<rect x="46" y="40.5" width="14.5" height="4" rx="1" fill="#f5b524"/>
<rect x="49" y="72.5" width="15" height="4" rx="1" fill="#f5b524"/>
<text x="57.5" y="65.5" font-size="19" font-weight="500" text-anchor="middle" fill="#5a0c08" font-family="Noto Sans CJK SC, sans-serif">歆</text>
</svg>
<div class="t1"><span class="dg">202<span class="one">1</span></span><span class="cj1">年货节</span></div>
<div class="t2">全国各省市异地订单爆款商品</div>
<div class="sub"><span class="ast">*</span>按成交额同比增长情况</div>
<div class="axis"></div>
<div class="tick" style="top:214.25px"></div><div class="tick" style="top:247.82px"></div><div class="tick" style="top:281.39px"></div><div class="tick" style="top:314.96px"></div><div class="tick" style="top:348.53px"></div><div class="tick" style="top:382.10px"></div><div class="tick" style="top:415.67px"></div><div class="tick" style="top:449.24px"></div><div class="tick" style="top:482.81px"></div><div class="tick" style="top:516.38px"></div><div class="tick" style="top:549.95px"></div><div class="tick" style="top:583.52px"></div><div class="tick" style="top:617.09px"></div><div class="tick" style="top:650.66px"></div><div class="tick" style="top:684.23px"></div><div class="tick" style="top:717.80px"></div><div class="tick" style="top:751.37px"></div><div class="tick" style="top:784.94px"></div>
<div class="bar" style="top:205.10px;width:308.0px;background:#ff987c"></div><div class="bar" style="top:238.67px;width:289.0px;background:#fd9982"></div><div class="bar" style="top:272.24px;width:279.0px;background:#fa9a87"></div><div class="bar" style="top:305.81px;width:269.5px;background:#f89b8d"></div><div class="bar" style="top:339.38px;width:231.0px;background:#f59c93"></div><div class="bar" style="top:372.95px;width:221.5px;background:#f39d98"></div><div class="bar" style="top:406.52px;width:200.0px;background:#f09e9e"></div><div class="bar" style="top:440.09px;width:193.0px;background:#ee9fa4"></div><div class="bar" style="top:473.66px;width:183.0px;background:#eba0a9"></div><div class="bar" style="top:507.23px;width:173.7px;background:#e9a0af"></div><div class="bar" style="top:540.80px;width:173.7px;background:#e6a0b4"></div><div class="bar" style="top:574.37px;width:163.7px;background:#e4a1ba"></div><div class="bar" style="top:607.94px;width:163.7px;background:#e2a1c0"></div><div class="bar" style="top:641.51px;width:154.0px;background:#dfa1c5"></div><div class="bar" style="top:675.08px;width:144.8px;background:#dda1cb"></div><div class="bar" style="top:708.65px;width:144.8px;background:#dba2d1"></div><div class="bar" style="top:742.22px;width:134.8px;background:#d8a2d6"></div><div class="bar" style="top:775.79px;width:115.9px;background:#d6a2dc"></div>
<div class="lab" style="top:205.25px">【江苏】佛跳墙海鲜礼盒</div><div class="lab" style="top:238.82px">【广东】方便菜<span class="md">·</span>手打潮汕正宗牛肉丸</div><div class="lab" style="top:272.39px">【湖北】松花皮蛋</div><div class="lab" style="top:305.96px">【广西】北海鲜冻白虾</div><div class="lab" style="top:339.53px">【福建】方便菜<span class="md">·</span>鱼丸蟹膏宝</div><div class="lab" style="top:373.10px">【四川】烟熏川味腊肠腊肉</div><div class="lab" style="top:406.67px">【上海】鲜炖即食冰糖燕窝礼盒</div><div class="lab" style="top:440.24px">【辽宁】冷冻即食海参</div><div class="lab" style="top:473.81px">【江西】赣南脐橙</div><div class="lab" style="top:507.38px">【云南】天山红泥沙雪莲果</div><div class="lab" style="top:540.95px">【吉林】方便菜<span class="md">·</span>韩式免切辣白菜</div><div class="lab" style="top:574.52px">【河南】方便菜<span class="md">·</span>灌汤风味猪肉小笼包</div><div class="lab" style="top:608.09px">【河北】春联<span class="md">/</span>年画<span class="md">/</span>剪纸</div><div class="lab" style="top:641.66px">【湖南】油焖烟笋</div><div class="lab" style="top:675.23px">【陕西】绿心猕猴桃</div><div class="lab" style="top:708.80px">【北京】京八件糕点</div><div class="lab" style="top:742.37px">【黑龙江】秋林里道斯红肠</div><div class="lab" style="top:775.94px">【宁夏】滩羊原切羊肉卷</div>
<div class="logo">数据观</div>
<svg style="position:absolute;left:0;top:0" width="700" height="872" viewBox="0 0 700 872"><rect x="570.3" y="816.3" width="15.3" height="10.6" rx="2" fill="#fff" stroke="#c0161f" stroke-width="1.5"/><path d="M572.5 825 L575 820.5 L578 823.5 L581.5 819" stroke="#c0161f" stroke-width="1.1" fill="none"/><circle cx="582.8" cy="818.4" r="1.4" fill="#fff" stroke="#c0161f" stroke-width="0.9"/><circle cx="585.3" cy="810.6" r="1.9" fill="#fff" stroke="#111" stroke-width="1.1"/><circle cx="601" cy="820.9" r="1.9" fill="#fff" stroke="#111" stroke-width="1.1"/><circle cx="538.5" cy="811.5" r="1.8" fill="#fff" stroke="#111" stroke-width="1.1"/></svg>
<div class="badge">荔<br>枝</div>
<div class="src">数据来源: 京东大数据研究院</div>
</body></html>
